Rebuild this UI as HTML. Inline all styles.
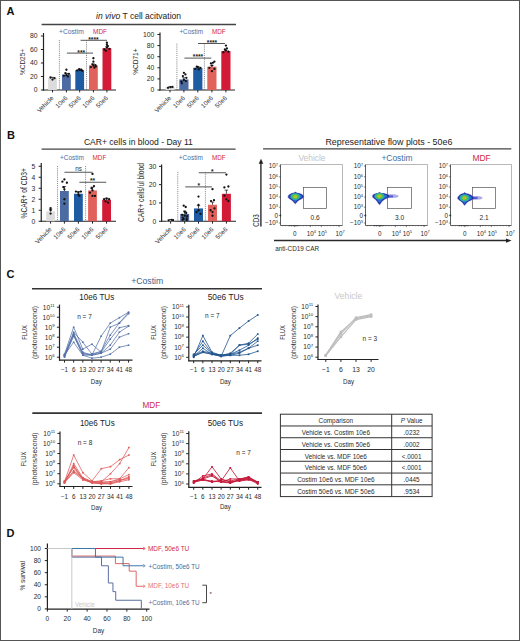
<!DOCTYPE html>
<html><head><meta charset="utf-8"><title>Figure</title>
<style>
html,body{margin:0;padding:0;background:#fff;}
body{width:520px;height:641px;overflow:hidden;}
svg{display:block;font-family:"Liberation Sans", sans-serif;}
</style></head>
<body>
<svg width="520" height="641" viewBox="0 0 520 641">
<defs><filter id="bl" x="-20%" y="-20%" width="140%" height="140%"><feGaussianBlur stdDeviation="0.45"/></filter></defs>
<rect x="0.50" y="0.50" width="519.00" height="640.00" fill="none" stroke="#555" stroke-width="1"/>
<text x="6.60" y="14.80" font-size="11" fill="#111" font-weight="bold">A</text>
<text x="7.00" y="138.80" font-size="11" fill="#111" font-weight="bold">B</text>
<text x="6.60" y="277.80" font-size="11" fill="#111" font-weight="bold">C</text>
<text x="6.60" y="536.90" font-size="11" fill="#111" font-weight="bold">D</text>
<line x1="41.60" y1="24.50" x2="236.00" y2="24.50" stroke="#444" stroke-width="1.3"/>
<text x="138.60" y="19.30" font-size="8.7" fill="#222" text-anchor="middle" textLength="85.00" lengthAdjust="spacingAndGlyphs"><tspan font-style="italic">in vivo</tspan> T cell acitvation</text>
<line x1="41.60" y1="149.10" x2="235.60" y2="149.10" stroke="#444" stroke-width="1.3"/>
<text x="138.40" y="145.10" font-size="8.6" fill="#222" text-anchor="middle" textLength="109.00" lengthAdjust="spacingAndGlyphs">CAR+ cells in blood - Day 11</text>
<line x1="263.10" y1="148.80" x2="511.30" y2="148.80" stroke="#444" stroke-width="1.3"/>
<text x="388.90" y="145.00" font-size="8.6" fill="#222" text-anchor="middle" textLength="127.00" lengthAdjust="spacingAndGlyphs">Representative flow plots - 50e6</text>
<line x1="32.00" y1="288.70" x2="262.00" y2="288.70" stroke="#333" stroke-width="1.6"/>
<text x="147.20" y="284.40" font-size="9.4" fill="#3b5d8c" text-anchor="middle" textLength="32.00" lengthAdjust="spacingAndGlyphs">+Costim</text>
<line x1="32.30" y1="413.10" x2="262.00" y2="413.10" stroke="#333" stroke-width="1.6"/>
<text x="151.30" y="408.00" font-size="9.4" fill="#cc2a4a" text-anchor="middle" textLength="17.80" lengthAdjust="spacingAndGlyphs">MDF</text>
<line x1="43.50" y1="33.00" x2="43.50" y2="90.60" stroke="#222" stroke-width="1.2"/>
<line x1="42.90" y1="90.00" x2="116.00" y2="90.00" stroke="#222" stroke-width="1.2"/>
<line x1="40.90" y1="90.00" x2="43.50" y2="90.00" stroke="#222" stroke-width="1.0"/>
<text x="37.60" y="92.40" font-size="6.8" fill="#2a2a2a" text-anchor="end">0</text>
<line x1="40.90" y1="76.50" x2="43.50" y2="76.50" stroke="#222" stroke-width="1.0"/>
<text x="37.60" y="78.90" font-size="6.8" fill="#2a2a2a" text-anchor="end">20</text>
<line x1="40.90" y1="63.00" x2="43.50" y2="63.00" stroke="#222" stroke-width="1.0"/>
<text x="37.60" y="65.40" font-size="6.8" fill="#2a2a2a" text-anchor="end">40</text>
<line x1="40.90" y1="49.50" x2="43.50" y2="49.50" stroke="#222" stroke-width="1.0"/>
<text x="37.60" y="51.90" font-size="6.8" fill="#2a2a2a" text-anchor="end">60</text>
<line x1="40.90" y1="36.00" x2="43.50" y2="36.00" stroke="#222" stroke-width="1.0"/>
<text x="37.60" y="38.40" font-size="6.8" fill="#2a2a2a" text-anchor="end">80</text>
<line x1="59.40" y1="40.00" x2="59.40" y2="90.00" stroke="#444" stroke-width="0.75" stroke-dasharray="0.8,1.1"/>
<line x1="86.50" y1="40.00" x2="86.50" y2="90.00" stroke="#444" stroke-width="0.75" stroke-dasharray="0.8,1.1"/>
<rect x="48.10" y="78.19" width="8.80" height="11.81" fill="#dcdcdc"/>
<line x1="52.50" y1="78.19" x2="52.50" y2="77.38" stroke="#222" stroke-width="0.8"/>
<line x1="50.80" y1="77.38" x2="54.20" y2="77.38" stroke="#222" stroke-width="0.8"/>
<circle cx="50.50" cy="77.51" r="1.15" fill="#111"/>
<circle cx="54.50" cy="78.19" r="1.15" fill="#111"/>
<circle cx="52.50" cy="79.54" r="1.15" fill="#111"/>
<line x1="52.50" y1="90.00" x2="52.50" y2="92.40" stroke="#222" stroke-width="1.0"/>
<rect x="62.00" y="74.47" width="8.80" height="15.53" fill="#4d6ba3"/>
<line x1="66.40" y1="74.47" x2="66.40" y2="73.46" stroke="#222" stroke-width="0.8"/>
<line x1="64.70" y1="73.46" x2="68.10" y2="73.46" stroke="#222" stroke-width="0.8"/>
<circle cx="63.90" cy="75.83" r="1.15" fill="#111"/>
<circle cx="66.40" cy="75.15" r="1.15" fill="#111"/>
<circle cx="68.90" cy="73.80" r="1.15" fill="#111"/>
<circle cx="65.40" cy="73.12" r="1.15" fill="#111"/>
<circle cx="67.90" cy="76.50" r="1.15" fill="#111"/>
<circle cx="66.40" cy="69.75" r="1.15" fill="#111"/>
<line x1="66.40" y1="90.00" x2="66.40" y2="92.40" stroke="#222" stroke-width="1.0"/>
<rect x="75.30" y="70.09" width="8.80" height="19.91" fill="#1d5ba3"/>
<line x1="79.70" y1="70.09" x2="79.70" y2="69.41" stroke="#222" stroke-width="0.8"/>
<line x1="78.00" y1="69.41" x2="81.40" y2="69.41" stroke="#222" stroke-width="0.8"/>
<circle cx="77.20" cy="70.42" r="1.15" fill="#111"/>
<circle cx="79.20" cy="69.08" r="1.15" fill="#111"/>
<circle cx="81.20" cy="69.75" r="1.15" fill="#111"/>
<circle cx="82.20" cy="70.76" r="1.15" fill="#111"/>
<circle cx="79.70" cy="70.09" r="1.15" fill="#111"/>
<line x1="79.70" y1="90.00" x2="79.70" y2="92.40" stroke="#222" stroke-width="1.0"/>
<rect x="89.00" y="65.36" width="8.80" height="24.64" fill="#e1625b"/>
<line x1="93.40" y1="65.36" x2="93.40" y2="64.01" stroke="#222" stroke-width="0.8"/>
<line x1="91.70" y1="64.01" x2="95.10" y2="64.01" stroke="#222" stroke-width="0.8"/>
<circle cx="90.90" cy="67.05" r="1.15" fill="#111"/>
<circle cx="93.40" cy="65.70" r="1.15" fill="#111"/>
<circle cx="95.90" cy="66.38" r="1.15" fill="#111"/>
<circle cx="92.40" cy="64.35" r="1.15" fill="#111"/>
<circle cx="94.40" cy="67.72" r="1.15" fill="#111"/>
<circle cx="93.40" cy="61.65" r="1.15" fill="#111"/>
<circle cx="93.40" cy="58.27" r="1.15" fill="#111"/>
<circle cx="95.40" cy="65.03" r="1.15" fill="#111"/>
<line x1="93.40" y1="90.00" x2="93.40" y2="92.40" stroke="#222" stroke-width="1.0"/>
<rect x="102.50" y="48.15" width="8.80" height="41.85" fill="#d31a37"/>
<line x1="106.90" y1="48.15" x2="106.90" y2="46.80" stroke="#222" stroke-width="0.8"/>
<line x1="105.20" y1="46.80" x2="108.60" y2="46.80" stroke="#222" stroke-width="0.8"/>
<circle cx="104.40" cy="49.50" r="1.15" fill="#111"/>
<circle cx="106.90" cy="47.47" r="1.15" fill="#111"/>
<circle cx="109.40" cy="48.82" r="1.15" fill="#111"/>
<circle cx="105.90" cy="50.85" r="1.15" fill="#111"/>
<circle cx="107.90" cy="46.12" r="1.15" fill="#111"/>
<circle cx="106.90" cy="42.75" r="1.15" fill="#111"/>
<circle cx="106.90" cy="44.77" r="1.15" fill="#111"/>
<line x1="106.90" y1="90.00" x2="106.90" y2="92.40" stroke="#222" stroke-width="1.0"/>
<line x1="66.90" y1="53.10" x2="93.00" y2="53.10" stroke="#555" stroke-width="1.0"/>
<text x="81.20" y="54.69" font-size="6.6" fill="#222" text-anchor="middle" font-weight="bold">***</text>
<line x1="80.60" y1="40.30" x2="107.00" y2="40.30" stroke="#555" stroke-width="1.0"/>
<text x="93.40" y="41.99" font-size="6.6" fill="#222" text-anchor="middle" font-weight="bold">****</text>
<text x="59.00" y="34.40" font-size="6.9" fill="#3f6fa6" textLength="24.80" lengthAdjust="spacingAndGlyphs">+Costim</text>
<text x="93.00" y="34.40" font-size="6.9" fill="#cc2a4a" textLength="14.00" lengthAdjust="spacingAndGlyphs">MDF</text>
<text x="54.00" y="98.60" font-size="6.3" fill="#2a2a2a" text-anchor="end" transform="rotate(-45 54.00 98.60)">Vehicle</text>
<text x="67.90" y="98.60" font-size="6.3" fill="#2a2a2a" text-anchor="end" transform="rotate(-45 67.90 98.60)">10e6</text>
<text x="81.20" y="98.60" font-size="6.3" fill="#2a2a2a" text-anchor="end" transform="rotate(-45 81.20 98.60)">50e6</text>
<text x="94.90" y="98.60" font-size="6.3" fill="#2a2a2a" text-anchor="end" transform="rotate(-45 94.90 98.60)">10e6</text>
<text x="108.40" y="98.60" font-size="6.3" fill="#2a2a2a" text-anchor="end" transform="rotate(-45 108.40 98.60)">50e6</text>
<text x="25.38" y="62.00" font-size="8.0" fill="#2a2a2a" text-anchor="middle" textLength="26.00" lengthAdjust="spacingAndGlyphs" transform="rotate(-90 25.38 62.00)">%CD25+</text>
<line x1="160.00" y1="32.50" x2="160.00" y2="90.60" stroke="#222" stroke-width="1.2"/>
<line x1="159.40" y1="90.00" x2="235.00" y2="90.00" stroke="#222" stroke-width="1.2"/>
<line x1="157.40" y1="90.00" x2="160.00" y2="90.00" stroke="#222" stroke-width="1.0"/>
<text x="154.40" y="92.40" font-size="6.8" fill="#2a2a2a" text-anchor="end">0</text>
<line x1="157.40" y1="78.90" x2="160.00" y2="78.90" stroke="#222" stroke-width="1.0"/>
<text x="154.40" y="81.30" font-size="6.8" fill="#2a2a2a" text-anchor="end">20</text>
<line x1="157.40" y1="67.80" x2="160.00" y2="67.80" stroke="#222" stroke-width="1.0"/>
<text x="154.40" y="70.20" font-size="6.8" fill="#2a2a2a" text-anchor="end">40</text>
<line x1="157.40" y1="56.70" x2="160.00" y2="56.70" stroke="#222" stroke-width="1.0"/>
<text x="154.40" y="59.10" font-size="6.8" fill="#2a2a2a" text-anchor="end">60</text>
<line x1="157.40" y1="45.60" x2="160.00" y2="45.60" stroke="#222" stroke-width="1.0"/>
<text x="154.40" y="48.00" font-size="6.8" fill="#2a2a2a" text-anchor="end">80</text>
<line x1="157.40" y1="34.50" x2="160.00" y2="34.50" stroke="#222" stroke-width="1.0"/>
<text x="154.40" y="36.90" font-size="6.8" fill="#2a2a2a" text-anchor="end">100</text>
<line x1="176.90" y1="43.70" x2="176.90" y2="90.00" stroke="#444" stroke-width="0.75" stroke-dasharray="0.8,1.1"/>
<line x1="204.40" y1="43.70" x2="204.40" y2="90.00" stroke="#444" stroke-width="0.75" stroke-dasharray="0.8,1.1"/>
<rect x="165.40" y="87.22" width="9.20" height="2.78" fill="#dcdcdc"/>
<line x1="170.00" y1="87.22" x2="170.00" y2="86.78" stroke="#222" stroke-width="0.8"/>
<line x1="168.30" y1="86.78" x2="171.70" y2="86.78" stroke="#222" stroke-width="0.8"/>
<circle cx="168.00" cy="87.78" r="1.15" fill="#111"/>
<circle cx="170.50" cy="87.22" r="1.15" fill="#111"/>
<circle cx="172.50" cy="86.95" r="1.15" fill="#111"/>
<line x1="170.00" y1="90.00" x2="170.00" y2="92.40" stroke="#222" stroke-width="1.0"/>
<rect x="179.30" y="79.45" width="9.20" height="10.55" fill="#4d6ba3"/>
<line x1="183.90" y1="79.45" x2="183.90" y2="77.79" stroke="#222" stroke-width="0.8"/>
<line x1="182.20" y1="77.79" x2="185.60" y2="77.79" stroke="#222" stroke-width="0.8"/>
<circle cx="181.40" cy="81.67" r="1.15" fill="#111"/>
<circle cx="183.90" cy="80.01" r="1.15" fill="#111"/>
<circle cx="186.40" cy="77.79" r="1.15" fill="#111"/>
<circle cx="182.90" cy="76.12" r="1.15" fill="#111"/>
<circle cx="185.40" cy="74.46" r="1.15" fill="#111"/>
<circle cx="183.90" cy="72.80" r="1.15" fill="#111"/>
<circle cx="181.90" cy="83.34" r="1.15" fill="#111"/>
<circle cx="185.90" cy="81.12" r="1.15" fill="#111"/>
<line x1="183.90" y1="90.00" x2="183.90" y2="92.40" stroke="#222" stroke-width="1.0"/>
<rect x="193.20" y="67.80" width="9.20" height="22.20" fill="#1d5ba3"/>
<line x1="197.80" y1="67.80" x2="197.80" y2="66.69" stroke="#222" stroke-width="0.8"/>
<line x1="196.10" y1="66.69" x2="199.50" y2="66.69" stroke="#222" stroke-width="0.8"/>
<circle cx="195.30" cy="68.91" r="1.15" fill="#111"/>
<circle cx="197.80" cy="67.25" r="1.15" fill="#111"/>
<circle cx="200.30" cy="67.80" r="1.15" fill="#111"/>
<circle cx="196.80" cy="66.69" r="1.15" fill="#111"/>
<circle cx="198.80" cy="69.47" r="1.15" fill="#111"/>
<line x1="197.80" y1="90.00" x2="197.80" y2="92.40" stroke="#222" stroke-width="1.0"/>
<rect x="207.30" y="66.69" width="9.20" height="23.31" fill="#e1625b"/>
<line x1="211.90" y1="66.69" x2="211.90" y2="65.30" stroke="#222" stroke-width="0.8"/>
<line x1="210.20" y1="65.30" x2="213.60" y2="65.30" stroke="#222" stroke-width="0.8"/>
<circle cx="209.40" cy="67.80" r="1.15" fill="#111"/>
<circle cx="211.90" cy="65.58" r="1.15" fill="#111"/>
<circle cx="214.40" cy="68.91" r="1.15" fill="#111"/>
<circle cx="210.90" cy="63.36" r="1.15" fill="#111"/>
<circle cx="212.90" cy="62.80" r="1.15" fill="#111"/>
<circle cx="214.40" cy="61.69" r="1.15" fill="#111"/>
<circle cx="211.90" cy="71.13" r="1.15" fill="#111"/>
<line x1="211.90" y1="90.00" x2="211.90" y2="92.40" stroke="#222" stroke-width="1.0"/>
<rect x="221.30" y="51.15" width="9.20" height="38.85" fill="#d31a37"/>
<line x1="225.90" y1="51.15" x2="225.90" y2="50.04" stroke="#222" stroke-width="0.8"/>
<line x1="224.20" y1="50.04" x2="227.60" y2="50.04" stroke="#222" stroke-width="0.8"/>
<circle cx="223.40" cy="52.26" r="1.15" fill="#111"/>
<circle cx="225.90" cy="50.59" r="1.15" fill="#111"/>
<circle cx="228.40" cy="51.70" r="1.15" fill="#111"/>
<circle cx="224.90" cy="49.48" r="1.15" fill="#111"/>
<circle cx="226.90" cy="48.37" r="1.15" fill="#111"/>
<circle cx="225.90" cy="45.60" r="1.15" fill="#111"/>
<line x1="225.90" y1="90.00" x2="225.90" y2="92.40" stroke="#222" stroke-width="1.0"/>
<line x1="184.40" y1="58.10" x2="211.30" y2="58.10" stroke="#555" stroke-width="1.0"/>
<text x="198.00" y="59.39" font-size="6.6" fill="#222" text-anchor="middle" font-weight="bold">****</text>
<line x1="198.00" y1="43.50" x2="225.00" y2="43.50" stroke="#555" stroke-width="1.0"/>
<text x="212.00" y="45.09" font-size="6.6" fill="#222" text-anchor="middle" font-weight="bold">****</text>
<text x="179.40" y="34.40" font-size="6.9" fill="#3f6fa6" textLength="23.60" lengthAdjust="spacingAndGlyphs">+Costim</text>
<text x="211.90" y="34.40" font-size="6.9" fill="#cc2a4a" textLength="13.70" lengthAdjust="spacingAndGlyphs">MDF</text>
<text x="171.50" y="98.60" font-size="6.3" fill="#2a2a2a" text-anchor="end" transform="rotate(-45 171.50 98.60)">Vehicle</text>
<text x="185.40" y="98.60" font-size="6.3" fill="#2a2a2a" text-anchor="end" transform="rotate(-45 185.40 98.60)">10e6</text>
<text x="199.30" y="98.60" font-size="6.3" fill="#2a2a2a" text-anchor="end" transform="rotate(-45 199.30 98.60)">50e6</text>
<text x="213.40" y="98.60" font-size="6.3" fill="#2a2a2a" text-anchor="end" transform="rotate(-45 213.40 98.60)">10e6</text>
<text x="227.40" y="98.60" font-size="6.3" fill="#2a2a2a" text-anchor="end" transform="rotate(-45 227.40 98.60)">50e6</text>
<text x="138.38" y="61.60" font-size="8.0" fill="#2a2a2a" text-anchor="middle" textLength="26.40" lengthAdjust="spacingAndGlyphs" transform="rotate(-90 138.38 61.60)">%CD71+</text>
<line x1="41.25" y1="163.10" x2="41.25" y2="221.85" stroke="#222" stroke-width="1.2"/>
<line x1="40.65" y1="221.25" x2="116.00" y2="221.25" stroke="#222" stroke-width="1.2"/>
<line x1="38.65" y1="221.25" x2="41.25" y2="221.25" stroke="#222" stroke-width="1.0"/>
<text x="35.20" y="223.65" font-size="6.8" fill="#2a2a2a" text-anchor="end">0</text>
<line x1="38.65" y1="210.25" x2="41.25" y2="210.25" stroke="#222" stroke-width="1.0"/>
<text x="35.20" y="212.65" font-size="6.8" fill="#2a2a2a" text-anchor="end">1</text>
<line x1="38.65" y1="199.25" x2="41.25" y2="199.25" stroke="#222" stroke-width="1.0"/>
<text x="35.20" y="201.65" font-size="6.8" fill="#2a2a2a" text-anchor="end">2</text>
<line x1="38.65" y1="188.25" x2="41.25" y2="188.25" stroke="#222" stroke-width="1.0"/>
<text x="35.20" y="190.65" font-size="6.8" fill="#2a2a2a" text-anchor="end">3</text>
<line x1="38.65" y1="177.25" x2="41.25" y2="177.25" stroke="#222" stroke-width="1.0"/>
<text x="35.20" y="179.65" font-size="6.8" fill="#2a2a2a" text-anchor="end">4</text>
<line x1="38.65" y1="166.25" x2="41.25" y2="166.25" stroke="#222" stroke-width="1.0"/>
<text x="35.20" y="168.65" font-size="6.8" fill="#2a2a2a" text-anchor="end">5</text>
<line x1="57.50" y1="166.00" x2="57.50" y2="221.25" stroke="#444" stroke-width="0.75" stroke-dasharray="0.8,1.1"/>
<line x1="85.60" y1="166.00" x2="85.60" y2="221.25" stroke="#444" stroke-width="0.75" stroke-dasharray="0.8,1.1"/>
<rect x="46.20" y="211.35" width="8.80" height="9.90" fill="#dcdcdc"/>
<line x1="50.60" y1="211.35" x2="50.60" y2="209.15" stroke="#222" stroke-width="0.8"/>
<line x1="48.90" y1="209.15" x2="52.30" y2="209.15" stroke="#222" stroke-width="0.8"/>
<circle cx="50.60" cy="208.05" r="1.15" fill="#111"/>
<circle cx="50.60" cy="213.55" r="1.15" fill="#111"/>
<circle cx="50.60" cy="210.25" r="1.15" fill="#111"/>
<line x1="50.60" y1="221.25" x2="50.60" y2="223.65" stroke="#222" stroke-width="1.0"/>
<rect x="60.00" y="191.00" width="8.80" height="30.25" fill="#4d6ba3"/>
<line x1="64.40" y1="191.00" x2="64.40" y2="186.60" stroke="#222" stroke-width="0.8"/>
<line x1="62.70" y1="186.60" x2="66.10" y2="186.60" stroke="#222" stroke-width="0.8"/>
<circle cx="62.40" cy="181.65" r="1.15" fill="#111"/>
<circle cx="64.40" cy="179.45" r="1.15" fill="#111"/>
<circle cx="66.90" cy="182.75" r="1.15" fill="#111"/>
<circle cx="64.40" cy="189.35" r="1.15" fill="#111"/>
<circle cx="64.40" cy="199.25" r="1.15" fill="#111"/>
<circle cx="64.40" cy="203.65" r="1.15" fill="#111"/>
<circle cx="63.40" cy="187.15" r="1.15" fill="#111"/>
<line x1="64.40" y1="221.25" x2="64.40" y2="223.65" stroke="#222" stroke-width="1.0"/>
<rect x="74.00" y="193.75" width="8.80" height="27.50" fill="#1d5ba3"/>
<line x1="78.40" y1="193.75" x2="78.40" y2="191.55" stroke="#222" stroke-width="0.8"/>
<line x1="76.70" y1="191.55" x2="80.10" y2="191.55" stroke="#222" stroke-width="0.8"/>
<circle cx="75.90" cy="191.55" r="1.15" fill="#111"/>
<circle cx="78.40" cy="192.65" r="1.15" fill="#111"/>
<circle cx="80.90" cy="191.55" r="1.15" fill="#111"/>
<circle cx="78.40" cy="194.85" r="1.15" fill="#111"/>
<circle cx="79.40" cy="195.95" r="1.15" fill="#111"/>
<line x1="78.40" y1="221.25" x2="78.40" y2="223.65" stroke="#222" stroke-width="1.0"/>
<rect x="88.10" y="190.45" width="8.80" height="30.80" fill="#e1625b"/>
<line x1="92.50" y1="190.45" x2="92.50" y2="187.15" stroke="#222" stroke-width="0.8"/>
<line x1="90.80" y1="187.15" x2="94.20" y2="187.15" stroke="#222" stroke-width="0.8"/>
<circle cx="92.50" cy="173.95" r="1.15" fill="#111"/>
<circle cx="90.00" cy="192.65" r="1.15" fill="#111"/>
<circle cx="92.50" cy="195.95" r="1.15" fill="#111"/>
<circle cx="95.00" cy="195.95" r="1.15" fill="#111"/>
<circle cx="91.50" cy="188.25" r="1.15" fill="#111"/>
<circle cx="94.00" cy="186.05" r="1.15" fill="#111"/>
<circle cx="92.50" cy="190.45" r="1.15" fill="#111"/>
<line x1="92.50" y1="221.25" x2="92.50" y2="223.65" stroke="#222" stroke-width="1.0"/>
<rect x="102.20" y="199.80" width="8.80" height="21.45" fill="#d31a37"/>
<line x1="106.60" y1="199.80" x2="106.60" y2="198.15" stroke="#222" stroke-width="0.8"/>
<line x1="104.90" y1="198.15" x2="108.30" y2="198.15" stroke="#222" stroke-width="0.8"/>
<circle cx="104.10" cy="199.25" r="1.15" fill="#111"/>
<circle cx="106.60" cy="198.70" r="1.15" fill="#111"/>
<circle cx="109.10" cy="199.25" r="1.15" fill="#111"/>
<circle cx="105.60" cy="201.45" r="1.15" fill="#111"/>
<circle cx="108.10" cy="202.55" r="1.15" fill="#111"/>
<line x1="106.60" y1="221.25" x2="106.60" y2="223.65" stroke="#222" stroke-width="1.0"/>
<line x1="64.40" y1="172.25" x2="92.50" y2="172.25" stroke="#555" stroke-width="1.0"/>
<text x="78.50" y="170.60" font-size="6.4" fill="#333" text-anchor="middle">ns</text>
<line x1="79.40" y1="182.25" x2="106.25" y2="182.25" stroke="#555" stroke-width="1.0"/>
<text x="92.50" y="183.49" font-size="6.6" fill="#222" text-anchor="middle" font-weight="bold">**</text>
<text x="60.00" y="159.80" font-size="6.9" fill="#3f6fa6" textLength="23.80" lengthAdjust="spacingAndGlyphs">+Costim</text>
<text x="92.50" y="159.80" font-size="6.9" fill="#cc2a4a" textLength="13.80" lengthAdjust="spacingAndGlyphs">MDF</text>
<text x="52.10" y="229.85" font-size="6.3" fill="#2a2a2a" text-anchor="end" transform="rotate(-45 52.10 229.85)">Vehicle</text>
<text x="65.90" y="229.85" font-size="6.3" fill="#2a2a2a" text-anchor="end" transform="rotate(-45 65.90 229.85)">10e6</text>
<text x="79.90" y="229.85" font-size="6.3" fill="#2a2a2a" text-anchor="end" transform="rotate(-45 79.90 229.85)">50e6</text>
<text x="94.00" y="229.85" font-size="6.3" fill="#2a2a2a" text-anchor="end" transform="rotate(-45 94.00 229.85)">10e6</text>
<text x="108.10" y="229.85" font-size="6.3" fill="#2a2a2a" text-anchor="end" transform="rotate(-45 108.10 229.85)">50e6</text>
<text x="26.95" y="193.30" font-size="8.2" fill="#2a2a2a" text-anchor="middle" textLength="50.40" lengthAdjust="spacingAndGlyphs" transform="rotate(-90 26.95 193.30)">%CAR+ of CD3+</text>
<line x1="161.60" y1="164.40" x2="161.60" y2="221.85" stroke="#222" stroke-width="1.2"/>
<line x1="161.00" y1="221.25" x2="236.00" y2="221.25" stroke="#222" stroke-width="1.2"/>
<line x1="159.00" y1="221.25" x2="161.60" y2="221.25" stroke="#222" stroke-width="1.0"/>
<text x="156.30" y="223.65" font-size="6.8" fill="#2a2a2a" text-anchor="end">0</text>
<line x1="159.00" y1="202.95" x2="161.60" y2="202.95" stroke="#222" stroke-width="1.0"/>
<text x="156.30" y="205.35" font-size="6.8" fill="#2a2a2a" text-anchor="end">10</text>
<line x1="159.00" y1="184.65" x2="161.60" y2="184.65" stroke="#222" stroke-width="1.0"/>
<text x="156.30" y="187.05" font-size="6.8" fill="#2a2a2a" text-anchor="end">20</text>
<line x1="159.00" y1="166.35" x2="161.60" y2="166.35" stroke="#222" stroke-width="1.0"/>
<text x="156.30" y="168.75" font-size="6.8" fill="#2a2a2a" text-anchor="end">30</text>
<line x1="177.75" y1="172.00" x2="177.75" y2="221.25" stroke="#444" stroke-width="0.75" stroke-dasharray="0.8,1.1"/>
<line x1="205.40" y1="172.00" x2="205.40" y2="221.25" stroke="#444" stroke-width="0.75" stroke-dasharray="0.8,1.1"/>
<rect x="166.10" y="219.97" width="9.00" height="1.28" fill="#dcdcdc"/>
<line x1="170.60" y1="219.97" x2="170.60" y2="219.60" stroke="#222" stroke-width="0.8"/>
<line x1="168.90" y1="219.60" x2="172.30" y2="219.60" stroke="#222" stroke-width="0.8"/>
<circle cx="168.60" cy="220.34" r="1.15" fill="#111"/>
<circle cx="171.60" cy="219.79" r="1.15" fill="#111"/>
<circle cx="173.10" cy="220.15" r="1.15" fill="#111"/>
<line x1="170.60" y1="221.25" x2="170.60" y2="223.65" stroke="#222" stroke-width="1.0"/>
<rect x="180.20" y="213.93" width="9.00" height="7.32" fill="#4d6ba3"/>
<line x1="184.70" y1="213.93" x2="184.70" y2="211.19" stroke="#222" stroke-width="0.8"/>
<line x1="183.00" y1="211.19" x2="186.40" y2="211.19" stroke="#222" stroke-width="0.8"/>
<circle cx="183.70" cy="205.69" r="1.15" fill="#111"/>
<circle cx="185.70" cy="206.98" r="1.15" fill="#111"/>
<circle cx="184.70" cy="215.76" r="1.15" fill="#111"/>
<circle cx="182.70" cy="217.59" r="1.15" fill="#111"/>
<circle cx="186.70" cy="218.50" r="1.15" fill="#111"/>
<circle cx="182.20" cy="214.84" r="1.15" fill="#111"/>
<circle cx="187.20" cy="216.13" r="1.15" fill="#111"/>
<circle cx="183.70" cy="219.05" r="1.15" fill="#111"/>
<circle cx="186.20" cy="213.01" r="1.15" fill="#111"/>
<circle cx="184.70" cy="211.73" r="1.15" fill="#111"/>
<circle cx="182.70" cy="219.79" r="1.15" fill="#111"/>
<circle cx="186.70" cy="220.15" r="1.15" fill="#111"/>
<line x1="184.70" y1="221.25" x2="184.70" y2="223.65" stroke="#222" stroke-width="1.0"/>
<rect x="194.00" y="208.44" width="9.00" height="12.81" fill="#1d5ba3"/>
<line x1="198.50" y1="208.44" x2="198.50" y2="205.69" stroke="#222" stroke-width="0.8"/>
<line x1="196.80" y1="205.69" x2="200.20" y2="205.69" stroke="#222" stroke-width="0.8"/>
<circle cx="198.50" cy="196.54" r="1.15" fill="#111"/>
<circle cx="198.50" cy="204.78" r="1.15" fill="#111"/>
<circle cx="196.50" cy="212.10" r="1.15" fill="#111"/>
<circle cx="200.50" cy="213.93" r="1.15" fill="#111"/>
<circle cx="198.50" cy="210.27" r="1.15" fill="#111"/>
<line x1="198.50" y1="221.25" x2="198.50" y2="223.65" stroke="#222" stroke-width="1.0"/>
<rect x="208.00" y="204.78" width="9.00" height="16.47" fill="#e1625b"/>
<line x1="212.50" y1="204.78" x2="212.50" y2="202.03" stroke="#222" stroke-width="0.8"/>
<line x1="210.80" y1="202.03" x2="214.20" y2="202.03" stroke="#222" stroke-width="0.8"/>
<circle cx="212.50" cy="189.22" r="1.15" fill="#111"/>
<circle cx="211.00" cy="201.12" r="1.15" fill="#111"/>
<circle cx="214.00" cy="200.20" r="1.15" fill="#111"/>
<circle cx="210.50" cy="210.27" r="1.15" fill="#111"/>
<circle cx="212.50" cy="212.10" r="1.15" fill="#111"/>
<circle cx="214.50" cy="208.44" r="1.15" fill="#111"/>
<circle cx="212.50" cy="215.76" r="1.15" fill="#111"/>
<line x1="212.50" y1="221.25" x2="212.50" y2="223.65" stroke="#222" stroke-width="1.0"/>
<rect x="221.90" y="193.80" width="9.00" height="27.45" fill="#d31a37"/>
<line x1="226.40" y1="193.80" x2="226.40" y2="190.14" stroke="#222" stroke-width="0.8"/>
<line x1="224.70" y1="190.14" x2="228.10" y2="190.14" stroke="#222" stroke-width="0.8"/>
<circle cx="226.40" cy="174.59" r="1.15" fill="#111"/>
<circle cx="224.40" cy="187.39" r="1.15" fill="#111"/>
<circle cx="228.40" cy="186.48" r="1.15" fill="#111"/>
<circle cx="226.40" cy="199.29" r="1.15" fill="#111"/>
<circle cx="224.40" cy="195.63" r="1.15" fill="#111"/>
<circle cx="228.40" cy="201.12" r="1.15" fill="#111"/>
<line x1="226.40" y1="221.25" x2="226.40" y2="223.65" stroke="#222" stroke-width="1.0"/>
<line x1="185.25" y1="186.90" x2="211.90" y2="186.90" stroke="#555" stroke-width="1.0"/>
<text x="198.75" y="187.99" font-size="6.6" fill="#222" text-anchor="middle" font-weight="bold">*</text>
<line x1="198.75" y1="172.75" x2="226.00" y2="172.75" stroke="#555" stroke-width="1.0"/>
<text x="212.25" y="173.89" font-size="6.6" fill="#222" text-anchor="middle" font-weight="bold">*</text>
<text x="178.80" y="159.80" font-size="6.9" fill="#3f6fa6" textLength="24.00" lengthAdjust="spacingAndGlyphs">+Costim</text>
<text x="211.90" y="159.80" font-size="6.9" fill="#cc2a4a" textLength="13.70" lengthAdjust="spacingAndGlyphs">MDF</text>
<text x="172.10" y="229.85" font-size="6.3" fill="#2a2a2a" text-anchor="end" transform="rotate(-45 172.10 229.85)">Vehicle</text>
<text x="186.20" y="229.85" font-size="6.3" fill="#2a2a2a" text-anchor="end" transform="rotate(-45 186.20 229.85)">10e6</text>
<text x="200.00" y="229.85" font-size="6.3" fill="#2a2a2a" text-anchor="end" transform="rotate(-45 200.00 229.85)">50e6</text>
<text x="214.00" y="229.85" font-size="6.3" fill="#2a2a2a" text-anchor="end" transform="rotate(-45 214.00 229.85)">10e6</text>
<text x="227.90" y="229.85" font-size="6.3" fill="#2a2a2a" text-anchor="end" transform="rotate(-45 227.90 229.85)">50e6</text>
<text x="143.70" y="192.50" font-size="8.6" fill="#2a2a2a" text-anchor="middle" textLength="59.00" lengthAdjust="spacingAndGlyphs" transform="rotate(-90 143.70 192.50)">CAR+ cells/ul blood</text>
<line x1="280.50" y1="164.50" x2="342.50" y2="164.50" stroke="#9a9a9a" stroke-width="0.7"/>
<line x1="342.50" y1="164.50" x2="342.50" y2="225.50" stroke="#9a9a9a" stroke-width="0.7"/>
<line x1="280.50" y1="164.50" x2="280.50" y2="225.50" stroke="#333" stroke-width="0.8"/>
<line x1="280.50" y1="225.50" x2="342.50" y2="225.50" stroke="#333" stroke-width="0.8"/>
<line x1="278.90" y1="166.00" x2="280.50" y2="166.00" stroke="#333" stroke-width="0.6"/>
<text x="277.90" y="168.20" font-size="6.3" fill="#2a2a2a" text-anchor="end">10<tspan font-size="4.0" dy="-2.5">7</tspan></text>
<line x1="278.90" y1="176.80" x2="280.50" y2="176.80" stroke="#333" stroke-width="0.6"/>
<text x="277.90" y="179.00" font-size="6.3" fill="#2a2a2a" text-anchor="end">10<tspan font-size="4.0" dy="-2.5">6</tspan></text>
<line x1="278.90" y1="187.00" x2="280.50" y2="187.00" stroke="#333" stroke-width="0.6"/>
<text x="277.90" y="189.20" font-size="6.3" fill="#2a2a2a" text-anchor="end">10<tspan font-size="4.0" dy="-2.5">5</tspan></text>
<line x1="278.90" y1="197.00" x2="280.50" y2="197.00" stroke="#333" stroke-width="0.6"/>
<text x="277.90" y="199.20" font-size="6.3" fill="#2a2a2a" text-anchor="end">10<tspan font-size="4.0" dy="-2.5">4</tspan></text>
<line x1="278.90" y1="207.20" x2="280.50" y2="207.20" stroke="#333" stroke-width="0.6"/>
<text x="277.90" y="209.40" font-size="6.3" fill="#2a2a2a" text-anchor="end">10<tspan font-size="4.0" dy="-2.5">3</tspan></text>
<line x1="278.90" y1="215.40" x2="280.50" y2="215.40" stroke="#333" stroke-width="0.6"/>
<text x="277.90" y="217.60" font-size="6.3" fill="#2a2a2a" text-anchor="end">0</text>
<line x1="278.90" y1="223.00" x2="280.50" y2="223.00" stroke="#333" stroke-width="0.6"/>
<text x="277.90" y="225.20" font-size="6.3" fill="#2a2a2a" text-anchor="end">−10<tspan font-size="4.0" dy="-2.5">3</tspan></text>
<line x1="289.00" y1="225.70" x2="298.50" y2="225.70" stroke="#222" stroke-width="1.1" stroke-dasharray="1.2,0.6" opacity="0.75"/>
<rect x="279.80" y="214.60" width="1.40" height="1.80" fill="#222" opacity="0.8"/>
<line x1="294.80" y1="225.50" x2="294.80" y2="227.10" stroke="#333" stroke-width="0.6"/>
<text x="294.80" y="235.60" font-size="6.3" fill="#2a2a2a" text-anchor="middle">0</text>
<line x1="310.40" y1="225.50" x2="310.40" y2="227.10" stroke="#333" stroke-width="0.6"/>
<text x="311.40" y="235.60" font-size="6.3" fill="#2a2a2a" text-anchor="middle">10<tspan font-size="4.0" dy="-2.5">4</tspan></text>
<line x1="321.30" y1="225.50" x2="321.30" y2="227.10" stroke="#333" stroke-width="0.6"/>
<text x="322.30" y="235.60" font-size="6.3" fill="#2a2a2a" text-anchor="middle">10<tspan font-size="4.0" dy="-2.5">5</tspan></text>
<line x1="339.00" y1="225.50" x2="339.00" y2="227.10" stroke="#333" stroke-width="0.6"/>
<text x="340.00" y="235.60" font-size="6.3" fill="#2a2a2a" text-anchor="middle">10<tspan font-size="4.0" dy="-2.5">7</tspan></text>
<line x1="282.50" y1="225.50" x2="282.50" y2="226.40" stroke="#555" stroke-width="0.4"/>
<line x1="285.50" y1="225.50" x2="285.50" y2="226.40" stroke="#555" stroke-width="0.4"/>
<line x1="288.50" y1="225.50" x2="288.50" y2="226.40" stroke="#555" stroke-width="0.4"/>
<line x1="291.50" y1="225.50" x2="291.50" y2="226.40" stroke="#555" stroke-width="0.4"/>
<line x1="294.50" y1="225.50" x2="294.50" y2="226.40" stroke="#555" stroke-width="0.4"/>
<line x1="297.50" y1="225.50" x2="297.50" y2="226.40" stroke="#555" stroke-width="0.4"/>
<line x1="300.50" y1="225.50" x2="300.50" y2="226.40" stroke="#555" stroke-width="0.4"/>
<line x1="303.50" y1="225.50" x2="303.50" y2="226.40" stroke="#555" stroke-width="0.4"/>
<line x1="306.50" y1="225.50" x2="306.50" y2="226.40" stroke="#555" stroke-width="0.4"/>
<line x1="309.50" y1="225.50" x2="309.50" y2="226.40" stroke="#555" stroke-width="0.4"/>
<line x1="312.50" y1="225.50" x2="312.50" y2="226.40" stroke="#555" stroke-width="0.4"/>
<line x1="315.50" y1="225.50" x2="315.50" y2="226.40" stroke="#555" stroke-width="0.4"/>
<line x1="318.50" y1="225.50" x2="318.50" y2="226.40" stroke="#555" stroke-width="0.4"/>
<line x1="321.50" y1="225.50" x2="321.50" y2="226.40" stroke="#555" stroke-width="0.4"/>
<line x1="324.50" y1="225.50" x2="324.50" y2="226.40" stroke="#555" stroke-width="0.4"/>
<line x1="327.50" y1="225.50" x2="327.50" y2="226.40" stroke="#555" stroke-width="0.4"/>
<line x1="330.50" y1="225.50" x2="330.50" y2="226.40" stroke="#555" stroke-width="0.4"/>
<line x1="333.50" y1="225.50" x2="333.50" y2="226.40" stroke="#555" stroke-width="0.4"/>
<line x1="336.50" y1="225.50" x2="336.50" y2="226.40" stroke="#555" stroke-width="0.4"/>
<line x1="339.50" y1="225.50" x2="339.50" y2="226.40" stroke="#555" stroke-width="0.4"/>
<text x="312.00" y="160.70" font-size="8.4" fill="#c4c4c4" text-anchor="middle" textLength="27.00" lengthAdjust="spacingAndGlyphs">Vehicle</text>
<rect x="303.50" y="187.50" width="23.00" height="21.00" fill="none" stroke="#555" stroke-width="0.7"/>
<text x="315.20" y="220.10" font-size="6.6" fill="#2a2a2a" text-anchor="middle">0.6</text>
<g filter="url(#bl)">
<path d="M287.49,196.93 C287.49,194.51 291.45,192.75 293.98,192.42 L295.30,191.43 L296.73,192.42 C299.70,192.75 304.32,194.29 304.32,196.93 C304.32,198.69 298.82,199.57 296.84,202.76 L295.30,204.52 L293.76,202.76 C291.78,199.57 287.49,198.69 287.49,196.93 Z" fill="#6a50d0" opacity="0.5"/>
<path d="M288.20,196.90 C288.20,194.70 291.80,193.10 294.10,192.80 L295.30,191.90 L296.60,192.80 C299.30,193.10 303.50,194.50 303.50,196.90 C303.50,198.50 298.50,199.30 296.70,202.20 L295.30,203.80 L293.90,202.20 C292.10,199.30 288.20,198.50 288.20,196.90 Z" fill="#1f2f9c"/>
<path d="M289.48,196.85 C289.48,195.04 292.43,193.73 294.32,193.48 L295.30,192.75 L296.37,193.48 C298.58,193.73 302.02,194.88 302.02,196.85 C302.02,198.16 297.92,198.81 296.45,201.19 L295.30,202.50 L294.15,201.19 C292.68,198.81 289.48,198.16 289.48,196.85 Z" fill="#2a6fd0"/>
<ellipse cx="295.30" cy="196.60" rx="4.59" ry="3.4" fill="#27b0b8"/>
<ellipse cx="295.30" cy="196.60" rx="3.5" ry="2.7" fill="#4cbf55"/>
<ellipse cx="295.30" cy="196.60" rx="2.0" ry="1.6" fill="#afcf2e"/>
<ellipse cx="295.30" cy="196.60" rx="0.9" ry="0.8" fill="#e6a020"/>
</g>
<line x1="365.50" y1="164.50" x2="427.50" y2="164.50" stroke="#9a9a9a" stroke-width="0.7"/>
<line x1="427.50" y1="164.50" x2="427.50" y2="225.50" stroke="#9a9a9a" stroke-width="0.7"/>
<line x1="365.50" y1="164.50" x2="365.50" y2="225.50" stroke="#333" stroke-width="0.8"/>
<line x1="365.50" y1="225.50" x2="427.50" y2="225.50" stroke="#333" stroke-width="0.8"/>
<line x1="363.90" y1="166.00" x2="365.50" y2="166.00" stroke="#333" stroke-width="0.6"/>
<text x="362.90" y="168.20" font-size="6.3" fill="#2a2a2a" text-anchor="end">10<tspan font-size="4.0" dy="-2.5">7</tspan></text>
<line x1="363.90" y1="176.80" x2="365.50" y2="176.80" stroke="#333" stroke-width="0.6"/>
<text x="362.90" y="179.00" font-size="6.3" fill="#2a2a2a" text-anchor="end">10<tspan font-size="4.0" dy="-2.5">6</tspan></text>
<line x1="363.90" y1="187.00" x2="365.50" y2="187.00" stroke="#333" stroke-width="0.6"/>
<text x="362.90" y="189.20" font-size="6.3" fill="#2a2a2a" text-anchor="end">10<tspan font-size="4.0" dy="-2.5">5</tspan></text>
<line x1="363.90" y1="197.00" x2="365.50" y2="197.00" stroke="#333" stroke-width="0.6"/>
<text x="362.90" y="199.20" font-size="6.3" fill="#2a2a2a" text-anchor="end">10<tspan font-size="4.0" dy="-2.5">4</tspan></text>
<line x1="363.90" y1="207.20" x2="365.50" y2="207.20" stroke="#333" stroke-width="0.6"/>
<text x="362.90" y="209.40" font-size="6.3" fill="#2a2a2a" text-anchor="end">10<tspan font-size="4.0" dy="-2.5">3</tspan></text>
<line x1="363.90" y1="215.40" x2="365.50" y2="215.40" stroke="#333" stroke-width="0.6"/>
<text x="362.90" y="217.60" font-size="6.3" fill="#2a2a2a" text-anchor="end">0</text>
<line x1="363.90" y1="223.00" x2="365.50" y2="223.00" stroke="#333" stroke-width="0.6"/>
<text x="362.90" y="225.20" font-size="6.3" fill="#2a2a2a" text-anchor="end">−10<tspan font-size="4.0" dy="-2.5">3</tspan></text>
<line x1="374.00" y1="225.70" x2="383.50" y2="225.70" stroke="#222" stroke-width="1.1" stroke-dasharray="1.2,0.6" opacity="0.75"/>
<rect x="364.80" y="214.60" width="1.40" height="1.80" fill="#222" opacity="0.8"/>
<line x1="379.80" y1="225.50" x2="379.80" y2="227.10" stroke="#333" stroke-width="0.6"/>
<text x="379.80" y="235.60" font-size="6.3" fill="#2a2a2a" text-anchor="middle">0</text>
<line x1="395.40" y1="225.50" x2="395.40" y2="227.10" stroke="#333" stroke-width="0.6"/>
<text x="396.40" y="235.60" font-size="6.3" fill="#2a2a2a" text-anchor="middle">10<tspan font-size="4.0" dy="-2.5">4</tspan></text>
<line x1="406.30" y1="225.50" x2="406.30" y2="227.10" stroke="#333" stroke-width="0.6"/>
<text x="407.30" y="235.60" font-size="6.3" fill="#2a2a2a" text-anchor="middle">10<tspan font-size="4.0" dy="-2.5">5</tspan></text>
<line x1="424.00" y1="225.50" x2="424.00" y2="227.10" stroke="#333" stroke-width="0.6"/>
<text x="425.00" y="235.60" font-size="6.3" fill="#2a2a2a" text-anchor="middle">10<tspan font-size="4.0" dy="-2.5">7</tspan></text>
<line x1="367.50" y1="225.50" x2="367.50" y2="226.40" stroke="#555" stroke-width="0.4"/>
<line x1="370.50" y1="225.50" x2="370.50" y2="226.40" stroke="#555" stroke-width="0.4"/>
<line x1="373.50" y1="225.50" x2="373.50" y2="226.40" stroke="#555" stroke-width="0.4"/>
<line x1="376.50" y1="225.50" x2="376.50" y2="226.40" stroke="#555" stroke-width="0.4"/>
<line x1="379.50" y1="225.50" x2="379.50" y2="226.40" stroke="#555" stroke-width="0.4"/>
<line x1="382.50" y1="225.50" x2="382.50" y2="226.40" stroke="#555" stroke-width="0.4"/>
<line x1="385.50" y1="225.50" x2="385.50" y2="226.40" stroke="#555" stroke-width="0.4"/>
<line x1="388.50" y1="225.50" x2="388.50" y2="226.40" stroke="#555" stroke-width="0.4"/>
<line x1="391.50" y1="225.50" x2="391.50" y2="226.40" stroke="#555" stroke-width="0.4"/>
<line x1="394.50" y1="225.50" x2="394.50" y2="226.40" stroke="#555" stroke-width="0.4"/>
<line x1="397.50" y1="225.50" x2="397.50" y2="226.40" stroke="#555" stroke-width="0.4"/>
<line x1="400.50" y1="225.50" x2="400.50" y2="226.40" stroke="#555" stroke-width="0.4"/>
<line x1="403.50" y1="225.50" x2="403.50" y2="226.40" stroke="#555" stroke-width="0.4"/>
<line x1="406.50" y1="225.50" x2="406.50" y2="226.40" stroke="#555" stroke-width="0.4"/>
<line x1="409.50" y1="225.50" x2="409.50" y2="226.40" stroke="#555" stroke-width="0.4"/>
<line x1="412.50" y1="225.50" x2="412.50" y2="226.40" stroke="#555" stroke-width="0.4"/>
<line x1="415.50" y1="225.50" x2="415.50" y2="226.40" stroke="#555" stroke-width="0.4"/>
<line x1="418.50" y1="225.50" x2="418.50" y2="226.40" stroke="#555" stroke-width="0.4"/>
<line x1="421.50" y1="225.50" x2="421.50" y2="226.40" stroke="#555" stroke-width="0.4"/>
<line x1="424.50" y1="225.50" x2="424.50" y2="226.40" stroke="#555" stroke-width="0.4"/>
<text x="397.00" y="160.70" font-size="8.4" fill="#3f6fa6" text-anchor="middle" textLength="31.20" lengthAdjust="spacingAndGlyphs">+Costim</text>
<rect x="387.50" y="187.50" width="24.00" height="21.00" fill="none" stroke="#555" stroke-width="0.7"/>
<text x="399.70" y="220.10" font-size="6.6" fill="#2a2a2a" text-anchor="middle">3.0</text>
<g filter="url(#bl)">
<path d="M386.00,194.60 C392.50,194.00 398.50,194.60 398.50,196.20 C398.50,197.80 392.50,198.20 386.00,198.00 Z" fill="#8f8fe0" opacity="0.75"/>
<path d="M386.00,195.20 L393.00,195.40 L393.00,197.20 L386.00,197.40 Z" fill="#3a48c8" opacity="0.8"/>
<path d="M371.91,196.53 C371.91,194.11 375.65,193.12 378.18,192.79 L379.50,191.80 L380.93,192.79 C383.90,193.12 389.95,193.89 389.95,196.53 C389.95,198.29 383.02,199.17 381.04,203.68 L379.50,205.44 L377.96,203.68 C375.98,199.17 371.91,198.29 371.91,196.53 Z" fill="#6a50d0" opacity="0.5"/>
<path d="M372.60,196.50 C372.60,194.30 376.00,193.40 378.30,193.10 L379.50,192.20 L380.80,193.10 C383.50,193.40 389.00,194.10 389.00,196.50 C389.00,198.10 382.70,198.90 380.90,203.00 L379.50,204.60 L378.10,203.00 C376.30,198.90 372.60,198.10 372.60,196.50 Z" fill="#1f2f9c"/>
<path d="M373.84,196.45 C373.84,194.64 376.63,193.90 378.52,193.66 L379.50,192.92 L380.57,193.66 C382.78,193.90 387.29,194.48 387.29,196.45 C387.29,197.76 382.12,198.41 380.65,201.78 L379.50,203.09 L378.35,201.78 C376.88,198.41 373.84,197.76 373.84,196.45 Z" fill="#2a6fd0"/>
<ellipse cx="379.50" cy="196.20" rx="4.92" ry="3.4" fill="#27b0b8"/>
<ellipse cx="379.50" cy="196.20" rx="3.5" ry="2.7" fill="#4cbf55"/>
<ellipse cx="379.50" cy="196.20" rx="2.0" ry="1.6" fill="#afcf2e"/>
<ellipse cx="379.50" cy="196.20" rx="0.9" ry="0.8" fill="#e6a020"/>
</g>
<line x1="450.50" y1="164.50" x2="511.50" y2="164.50" stroke="#9a9a9a" stroke-width="0.7"/>
<line x1="511.50" y1="164.50" x2="511.50" y2="225.50" stroke="#9a9a9a" stroke-width="0.7"/>
<line x1="450.50" y1="164.50" x2="450.50" y2="225.50" stroke="#333" stroke-width="0.8"/>
<line x1="450.50" y1="225.50" x2="511.50" y2="225.50" stroke="#333" stroke-width="0.8"/>
<line x1="448.90" y1="166.00" x2="450.50" y2="166.00" stroke="#333" stroke-width="0.6"/>
<text x="447.90" y="168.20" font-size="6.3" fill="#2a2a2a" text-anchor="end">10<tspan font-size="4.0" dy="-2.5">7</tspan></text>
<line x1="448.90" y1="176.80" x2="450.50" y2="176.80" stroke="#333" stroke-width="0.6"/>
<text x="447.90" y="179.00" font-size="6.3" fill="#2a2a2a" text-anchor="end">10<tspan font-size="4.0" dy="-2.5">6</tspan></text>
<line x1="448.90" y1="187.00" x2="450.50" y2="187.00" stroke="#333" stroke-width="0.6"/>
<text x="447.90" y="189.20" font-size="6.3" fill="#2a2a2a" text-anchor="end">10<tspan font-size="4.0" dy="-2.5">5</tspan></text>
<line x1="448.90" y1="197.00" x2="450.50" y2="197.00" stroke="#333" stroke-width="0.6"/>
<text x="447.90" y="199.20" font-size="6.3" fill="#2a2a2a" text-anchor="end">10<tspan font-size="4.0" dy="-2.5">4</tspan></text>
<line x1="448.90" y1="207.20" x2="450.50" y2="207.20" stroke="#333" stroke-width="0.6"/>
<text x="447.90" y="209.40" font-size="6.3" fill="#2a2a2a" text-anchor="end">10<tspan font-size="4.0" dy="-2.5">3</tspan></text>
<line x1="448.90" y1="215.40" x2="450.50" y2="215.40" stroke="#333" stroke-width="0.6"/>
<text x="447.90" y="217.60" font-size="6.3" fill="#2a2a2a" text-anchor="end">0</text>
<line x1="448.90" y1="223.00" x2="450.50" y2="223.00" stroke="#333" stroke-width="0.6"/>
<text x="447.90" y="225.20" font-size="6.3" fill="#2a2a2a" text-anchor="end">−10<tspan font-size="4.0" dy="-2.5">3</tspan></text>
<line x1="459.00" y1="225.70" x2="468.50" y2="225.70" stroke="#222" stroke-width="1.1" stroke-dasharray="1.2,0.6" opacity="0.75"/>
<rect x="449.80" y="214.60" width="1.40" height="1.80" fill="#222" opacity="0.8"/>
<line x1="464.80" y1="225.50" x2="464.80" y2="227.10" stroke="#333" stroke-width="0.6"/>
<text x="464.80" y="235.60" font-size="6.3" fill="#2a2a2a" text-anchor="middle">0</text>
<line x1="480.40" y1="225.50" x2="480.40" y2="227.10" stroke="#333" stroke-width="0.6"/>
<text x="481.40" y="235.60" font-size="6.3" fill="#2a2a2a" text-anchor="middle">10<tspan font-size="4.0" dy="-2.5">4</tspan></text>
<line x1="491.30" y1="225.50" x2="491.30" y2="227.10" stroke="#333" stroke-width="0.6"/>
<text x="492.30" y="235.60" font-size="6.3" fill="#2a2a2a" text-anchor="middle">10<tspan font-size="4.0" dy="-2.5">5</tspan></text>
<line x1="509.00" y1="225.50" x2="509.00" y2="227.10" stroke="#333" stroke-width="0.6"/>
<text x="510.00" y="235.60" font-size="6.3" fill="#2a2a2a" text-anchor="middle">10<tspan font-size="4.0" dy="-2.5">7</tspan></text>
<line x1="452.50" y1="225.50" x2="452.50" y2="226.40" stroke="#555" stroke-width="0.4"/>
<line x1="455.50" y1="225.50" x2="455.50" y2="226.40" stroke="#555" stroke-width="0.4"/>
<line x1="458.50" y1="225.50" x2="458.50" y2="226.40" stroke="#555" stroke-width="0.4"/>
<line x1="461.50" y1="225.50" x2="461.50" y2="226.40" stroke="#555" stroke-width="0.4"/>
<line x1="464.50" y1="225.50" x2="464.50" y2="226.40" stroke="#555" stroke-width="0.4"/>
<line x1="467.50" y1="225.50" x2="467.50" y2="226.40" stroke="#555" stroke-width="0.4"/>
<line x1="470.50" y1="225.50" x2="470.50" y2="226.40" stroke="#555" stroke-width="0.4"/>
<line x1="473.50" y1="225.50" x2="473.50" y2="226.40" stroke="#555" stroke-width="0.4"/>
<line x1="476.50" y1="225.50" x2="476.50" y2="226.40" stroke="#555" stroke-width="0.4"/>
<line x1="479.50" y1="225.50" x2="479.50" y2="226.40" stroke="#555" stroke-width="0.4"/>
<line x1="482.50" y1="225.50" x2="482.50" y2="226.40" stroke="#555" stroke-width="0.4"/>
<line x1="485.50" y1="225.50" x2="485.50" y2="226.40" stroke="#555" stroke-width="0.4"/>
<line x1="488.50" y1="225.50" x2="488.50" y2="226.40" stroke="#555" stroke-width="0.4"/>
<line x1="491.50" y1="225.50" x2="491.50" y2="226.40" stroke="#555" stroke-width="0.4"/>
<line x1="494.50" y1="225.50" x2="494.50" y2="226.40" stroke="#555" stroke-width="0.4"/>
<line x1="497.50" y1="225.50" x2="497.50" y2="226.40" stroke="#555" stroke-width="0.4"/>
<line x1="500.50" y1="225.50" x2="500.50" y2="226.40" stroke="#555" stroke-width="0.4"/>
<line x1="503.50" y1="225.50" x2="503.50" y2="226.40" stroke="#555" stroke-width="0.4"/>
<line x1="506.50" y1="225.50" x2="506.50" y2="226.40" stroke="#555" stroke-width="0.4"/>
<line x1="509.50" y1="225.50" x2="509.50" y2="226.40" stroke="#555" stroke-width="0.4"/>
<text x="481.60" y="160.70" font-size="8.4" fill="#cc2a4a" text-anchor="middle" textLength="18.30" lengthAdjust="spacingAndGlyphs">MDF</text>
<rect x="472.50" y="187.50" width="23.00" height="21.00" fill="none" stroke="#555" stroke-width="0.7"/>
<text x="484.20" y="220.10" font-size="6.6" fill="#2a2a2a" text-anchor="middle">2.1</text>
<g filter="url(#bl)">
<path d="M470.50,196.30 C476.50,195.70 482.50,196.30 482.50,197.90 C482.50,199.50 476.50,199.90 470.50,199.70 Z" fill="#8f8fe0" opacity="0.75"/>
<path d="M470.50,196.90 L477.50,197.10 L477.50,198.90 L470.50,199.10 Z" fill="#3a48c8" opacity="0.8"/>
<path d="M457.12,198.23 C457.12,195.81 460.75,193.28 463.28,192.95 L464.60,191.96 L466.03,192.95 C469.00,193.28 474.39,195.59 474.39,198.23 C474.39,199.99 468.12,200.87 466.14,204.17 L464.60,205.93 L463.06,204.17 C461.08,200.87 457.12,199.99 457.12,198.23 Z" fill="#6a50d0" opacity="0.5"/>
<path d="M457.80,198.20 C457.80,196.00 461.10,193.70 463.40,193.40 L464.60,192.50 L465.90,193.40 C468.60,193.70 473.50,195.80 473.50,198.20 C473.50,199.80 467.80,200.60 466.00,203.60 L464.60,205.20 L463.20,203.60 C461.40,200.60 457.80,199.80 457.80,198.20 Z" fill="#1f2f9c"/>
<path d="M459.02,198.15 C459.02,196.34 461.73,194.46 463.62,194.21 L464.60,193.47 L465.67,194.21 C467.88,194.46 471.90,196.18 471.90,198.15 C471.90,199.46 467.22,200.11 465.75,202.57 L464.60,203.89 L463.45,202.57 C461.98,200.11 459.02,199.46 459.02,198.15 Z" fill="#2a6fd0"/>
<ellipse cx="464.60" cy="197.90" rx="4.71" ry="3.4" fill="#27b0b8"/>
<ellipse cx="464.60" cy="197.90" rx="3.5" ry="2.7" fill="#4cbf55"/>
<ellipse cx="464.60" cy="197.90" rx="2.0" ry="1.6" fill="#afcf2e"/>
<ellipse cx="464.60" cy="197.90" rx="0.9" ry="0.8" fill="#e6a020"/>
</g>
<line x1="260.90" y1="226.60" x2="260.90" y2="163.00" stroke="#2a2a2a" stroke-width="1.4"/>
<path d="M258.7,163.8 L261,158.8 L263.3,163.8 Z" stroke="none" stroke-width="1" fill="#222" />
<text x="258.60" y="220.60" font-size="9.2" fill="#2a2a2a" text-anchor="middle" textLength="12.40" lengthAdjust="spacingAndGlyphs" transform="rotate(-90 258.60 220.60)">CD3</text>
<line x1="274.00" y1="240.50" x2="507.00" y2="240.50" stroke="#2a2a2a" stroke-width="1.3"/>
<path d="M506,238.4 L511.6,240.6 L506,242.8 Z" stroke="none" stroke-width="1" fill="#222" />
<text x="275.20" y="250.80" font-size="7.4" fill="#2a2a2a" textLength="43.80" lengthAdjust="spacingAndGlyphs">anti-CD19 CAR</text>
<line x1="59.50" y1="304.60" x2="59.50" y2="360.70" stroke="#222" stroke-width="1.2"/>
<line x1="59.00" y1="360.20" x2="132.50" y2="360.20" stroke="#222" stroke-width="1.2"/>
<line x1="56.90" y1="357.20" x2="59.50" y2="357.20" stroke="#222" stroke-width="1.0"/>
<text x="54.60" y="359.50" font-size="6.6" fill="#2a2a2a" text-anchor="end">10<tspan font-size="4.3" dy="-2.7">6</tspan></text>
<line x1="56.90" y1="347.20" x2="59.50" y2="347.20" stroke="#222" stroke-width="1.0"/>
<text x="54.60" y="349.50" font-size="6.6" fill="#2a2a2a" text-anchor="end">10<tspan font-size="4.3" dy="-2.7">7</tspan></text>
<line x1="56.90" y1="337.20" x2="59.50" y2="337.20" stroke="#222" stroke-width="1.0"/>
<text x="54.60" y="339.50" font-size="6.6" fill="#2a2a2a" text-anchor="end">10<tspan font-size="4.3" dy="-2.7">8</tspan></text>
<line x1="56.90" y1="327.20" x2="59.50" y2="327.20" stroke="#222" stroke-width="1.0"/>
<text x="54.60" y="329.50" font-size="6.6" fill="#2a2a2a" text-anchor="end">10<tspan font-size="4.3" dy="-2.7">9</tspan></text>
<line x1="56.90" y1="317.20" x2="59.50" y2="317.20" stroke="#222" stroke-width="1.0"/>
<text x="54.60" y="319.50" font-size="6.6" fill="#2a2a2a" text-anchor="end">10<tspan font-size="4.3" dy="-2.7">10</tspan></text>
<line x1="56.90" y1="307.20" x2="59.50" y2="307.20" stroke="#222" stroke-width="1.0"/>
<text x="54.60" y="309.50" font-size="6.6" fill="#2a2a2a" text-anchor="end">10<tspan font-size="4.3" dy="-2.7">11</tspan></text>
<line x1="64.50" y1="360.20" x2="64.50" y2="362.60" stroke="#222" stroke-width="1.0"/>
<text x="64.50" y="372.30" font-size="6.3" fill="#2a2a2a" text-anchor="middle">−1</text>
<line x1="73.65" y1="360.20" x2="73.65" y2="362.60" stroke="#222" stroke-width="1.0"/>
<text x="73.65" y="372.30" font-size="6.3" fill="#2a2a2a" text-anchor="middle">6</text>
<line x1="82.80" y1="360.20" x2="82.80" y2="362.60" stroke="#222" stroke-width="1.0"/>
<text x="82.80" y="372.30" font-size="6.3" fill="#2a2a2a" text-anchor="middle">13</text>
<line x1="91.95" y1="360.20" x2="91.95" y2="362.60" stroke="#222" stroke-width="1.0"/>
<text x="91.95" y="372.30" font-size="6.3" fill="#2a2a2a" text-anchor="middle">20</text>
<line x1="101.10" y1="360.20" x2="101.10" y2="362.60" stroke="#222" stroke-width="1.0"/>
<text x="101.10" y="372.30" font-size="6.3" fill="#2a2a2a" text-anchor="middle">27</text>
<line x1="110.25" y1="360.20" x2="110.25" y2="362.60" stroke="#222" stroke-width="1.0"/>
<text x="110.25" y="372.30" font-size="6.3" fill="#2a2a2a" text-anchor="middle">34</text>
<line x1="119.40" y1="360.20" x2="119.40" y2="362.60" stroke="#222" stroke-width="1.0"/>
<text x="119.40" y="372.30" font-size="6.3" fill="#2a2a2a" text-anchor="middle">41</text>
<line x1="128.55" y1="360.20" x2="128.55" y2="362.60" stroke="#222" stroke-width="1.0"/>
<text x="128.55" y="372.30" font-size="6.3" fill="#2a2a2a" text-anchor="middle">48</text>
<text x="96.30" y="384.10" font-size="7.2" fill="#2a2a2a" text-anchor="middle" textLength="11.00" lengthAdjust="spacingAndGlyphs">Day</text>
<text x="96.75" y="299.60" font-size="8.6" fill="#222" text-anchor="middle" textLength="34.90" lengthAdjust="spacingAndGlyphs">10e6 TUs</text>
<text x="84.50" y="318.70" font-size="6.5" fill="#2a2a2a" text-anchor="middle" textLength="14.60" lengthAdjust="spacingAndGlyphs">n = 7</text>
<text x="26.50" y="332.50" font-size="7.6" fill="#2a2a2a" text-anchor="middle" textLength="14.60" lengthAdjust="spacingAndGlyphs" transform="rotate(-90 26.50 332.50)">FLUX</text>
<text x="37.30" y="332.50" font-size="7.6" fill="#2a2a2a" text-anchor="middle" textLength="53.00" lengthAdjust="spacingAndGlyphs" transform="rotate(-90 37.30 332.50)">(photons/second)</text>
<polyline points="64.50,355.20 73.65,333.20 82.80,352.20 91.95,355.20 101.10,336.20 110.25,323.20 119.40,317.70 128.55,312.20" fill="none" stroke="#5572a8" stroke-width="0.75" stroke-linejoin="round"/>
<rect x="63.70" y="354.40" width="1.60" height="1.60" fill="#5572a8"/>
<rect x="72.85" y="332.40" width="1.60" height="1.60" fill="#5572a8"/>
<rect x="82.00" y="351.40" width="1.60" height="1.60" fill="#5572a8"/>
<rect x="91.15" y="354.40" width="1.60" height="1.60" fill="#5572a8"/>
<rect x="100.30" y="335.40" width="1.60" height="1.60" fill="#5572a8"/>
<rect x="109.45" y="322.40" width="1.60" height="1.60" fill="#5572a8"/>
<rect x="118.60" y="316.90" width="1.60" height="1.60" fill="#5572a8"/>
<rect x="127.75" y="311.40" width="1.60" height="1.60" fill="#5572a8"/>
<polyline points="64.50,354.20 73.65,327.20 82.80,349.20 91.95,344.20 101.10,352.20 110.25,327.20 119.40,323.20 128.55,313.70" fill="none" stroke="#5572a8" stroke-width="0.75" stroke-linejoin="round"/>
<rect x="63.70" y="353.40" width="1.60" height="1.60" fill="#5572a8"/>
<rect x="72.85" y="326.40" width="1.60" height="1.60" fill="#5572a8"/>
<rect x="82.00" y="348.40" width="1.60" height="1.60" fill="#5572a8"/>
<rect x="91.15" y="343.40" width="1.60" height="1.60" fill="#5572a8"/>
<rect x="100.30" y="351.40" width="1.60" height="1.60" fill="#5572a8"/>
<rect x="109.45" y="326.40" width="1.60" height="1.60" fill="#5572a8"/>
<rect x="118.60" y="322.40" width="1.60" height="1.60" fill="#5572a8"/>
<rect x="127.75" y="312.90" width="1.60" height="1.60" fill="#5572a8"/>
<polyline points="64.50,356.20 73.65,332.20 82.80,342.20 91.95,354.20 101.10,351.20 110.25,335.20 119.40,322.70 128.55,312.70" fill="none" stroke="#5572a8" stroke-width="0.75" stroke-linejoin="round"/>
<rect x="63.70" y="355.40" width="1.60" height="1.60" fill="#5572a8"/>
<rect x="72.85" y="331.40" width="1.60" height="1.60" fill="#5572a8"/>
<rect x="82.00" y="341.40" width="1.60" height="1.60" fill="#5572a8"/>
<rect x="91.15" y="353.40" width="1.60" height="1.60" fill="#5572a8"/>
<rect x="100.30" y="350.40" width="1.60" height="1.60" fill="#5572a8"/>
<rect x="109.45" y="334.40" width="1.60" height="1.60" fill="#5572a8"/>
<rect x="118.60" y="321.90" width="1.60" height="1.60" fill="#5572a8"/>
<rect x="127.75" y="311.90" width="1.60" height="1.60" fill="#5572a8"/>
<polyline points="64.50,355.20 73.65,334.20 82.80,354.20 91.95,354.20 101.10,352.20 110.25,339.20 119.40,327.70 128.55,325.70" fill="none" stroke="#5572a8" stroke-width="0.75" stroke-linejoin="round"/>
<rect x="63.70" y="354.40" width="1.60" height="1.60" fill="#5572a8"/>
<rect x="72.85" y="333.40" width="1.60" height="1.60" fill="#5572a8"/>
<rect x="82.00" y="353.40" width="1.60" height="1.60" fill="#5572a8"/>
<rect x="91.15" y="353.40" width="1.60" height="1.60" fill="#5572a8"/>
<rect x="100.30" y="351.40" width="1.60" height="1.60" fill="#5572a8"/>
<rect x="109.45" y="338.40" width="1.60" height="1.60" fill="#5572a8"/>
<rect x="118.60" y="326.90" width="1.60" height="1.60" fill="#5572a8"/>
<rect x="127.75" y="324.90" width="1.60" height="1.60" fill="#5572a8"/>
<polyline points="64.50,357.20 73.65,336.20 82.80,353.20 91.95,355.20 101.10,353.20 110.25,345.20 119.40,332.20 128.55,326.20" fill="none" stroke="#5572a8" stroke-width="0.75" stroke-linejoin="round"/>
<rect x="63.70" y="356.40" width="1.60" height="1.60" fill="#5572a8"/>
<rect x="72.85" y="335.40" width="1.60" height="1.60" fill="#5572a8"/>
<rect x="82.00" y="352.40" width="1.60" height="1.60" fill="#5572a8"/>
<rect x="91.15" y="354.40" width="1.60" height="1.60" fill="#5572a8"/>
<rect x="100.30" y="352.40" width="1.60" height="1.60" fill="#5572a8"/>
<rect x="109.45" y="344.40" width="1.60" height="1.60" fill="#5572a8"/>
<rect x="118.60" y="331.40" width="1.60" height="1.60" fill="#5572a8"/>
<rect x="127.75" y="325.40" width="1.60" height="1.60" fill="#5572a8"/>
<polyline points="64.50,355.20 73.65,342.20 82.80,355.20 91.95,355.20 101.10,353.20 110.25,349.20 119.40,337.20 128.55,333.70" fill="none" stroke="#5572a8" stroke-width="0.75" stroke-linejoin="round"/>
<rect x="63.70" y="354.40" width="1.60" height="1.60" fill="#5572a8"/>
<rect x="72.85" y="341.40" width="1.60" height="1.60" fill="#5572a8"/>
<rect x="82.00" y="354.40" width="1.60" height="1.60" fill="#5572a8"/>
<rect x="91.15" y="354.40" width="1.60" height="1.60" fill="#5572a8"/>
<rect x="100.30" y="352.40" width="1.60" height="1.60" fill="#5572a8"/>
<rect x="109.45" y="348.40" width="1.60" height="1.60" fill="#5572a8"/>
<rect x="118.60" y="336.40" width="1.60" height="1.60" fill="#5572a8"/>
<rect x="127.75" y="332.90" width="1.60" height="1.60" fill="#5572a8"/>
<polyline points="64.50,356.20 73.65,335.20 82.80,355.20 91.95,358.20 101.10,357.20 110.25,354.20 119.40,347.20 128.55,345.20" fill="none" stroke="#5572a8" stroke-width="0.75" stroke-linejoin="round"/>
<rect x="63.70" y="355.40" width="1.60" height="1.60" fill="#5572a8"/>
<rect x="72.85" y="334.40" width="1.60" height="1.60" fill="#5572a8"/>
<rect x="82.00" y="354.40" width="1.60" height="1.60" fill="#5572a8"/>
<rect x="91.15" y="357.40" width="1.60" height="1.60" fill="#5572a8"/>
<rect x="100.30" y="356.40" width="1.60" height="1.60" fill="#5572a8"/>
<rect x="109.45" y="353.40" width="1.60" height="1.60" fill="#5572a8"/>
<rect x="118.60" y="346.40" width="1.60" height="1.60" fill="#5572a8"/>
<rect x="127.75" y="344.40" width="1.60" height="1.60" fill="#5572a8"/>
<line x1="188.80" y1="304.80" x2="188.80" y2="361.30" stroke="#222" stroke-width="1.2"/>
<line x1="188.30" y1="360.80" x2="261.50" y2="360.80" stroke="#222" stroke-width="1.2"/>
<line x1="186.20" y1="357.30" x2="188.80" y2="357.30" stroke="#222" stroke-width="1.0"/>
<text x="183.90" y="359.60" font-size="6.6" fill="#2a2a2a" text-anchor="end">10<tspan font-size="4.3" dy="-2.7">6</tspan></text>
<line x1="186.20" y1="347.22" x2="188.80" y2="347.22" stroke="#222" stroke-width="1.0"/>
<text x="183.90" y="349.52" font-size="6.6" fill="#2a2a2a" text-anchor="end">10<tspan font-size="4.3" dy="-2.7">7</tspan></text>
<line x1="186.20" y1="337.14" x2="188.80" y2="337.14" stroke="#222" stroke-width="1.0"/>
<text x="183.90" y="339.44" font-size="6.6" fill="#2a2a2a" text-anchor="end">10<tspan font-size="4.3" dy="-2.7">8</tspan></text>
<line x1="186.20" y1="327.06" x2="188.80" y2="327.06" stroke="#222" stroke-width="1.0"/>
<text x="183.90" y="329.36" font-size="6.6" fill="#2a2a2a" text-anchor="end">10<tspan font-size="4.3" dy="-2.7">9</tspan></text>
<line x1="186.20" y1="316.98" x2="188.80" y2="316.98" stroke="#222" stroke-width="1.0"/>
<text x="183.90" y="319.28" font-size="6.6" fill="#2a2a2a" text-anchor="end">10<tspan font-size="4.3" dy="-2.7">10</tspan></text>
<line x1="186.20" y1="306.90" x2="188.80" y2="306.90" stroke="#222" stroke-width="1.0"/>
<text x="183.90" y="309.20" font-size="6.6" fill="#2a2a2a" text-anchor="end">10<tspan font-size="4.3" dy="-2.7">11</tspan></text>
<line x1="193.70" y1="360.80" x2="193.70" y2="363.20" stroke="#222" stroke-width="1.0"/>
<text x="193.70" y="372.30" font-size="6.3" fill="#2a2a2a" text-anchor="middle">−1</text>
<line x1="202.85" y1="360.80" x2="202.85" y2="363.20" stroke="#222" stroke-width="1.0"/>
<text x="202.85" y="372.30" font-size="6.3" fill="#2a2a2a" text-anchor="middle">6</text>
<line x1="212.00" y1="360.80" x2="212.00" y2="363.20" stroke="#222" stroke-width="1.0"/>
<text x="212.00" y="372.30" font-size="6.3" fill="#2a2a2a" text-anchor="middle">13</text>
<line x1="221.15" y1="360.80" x2="221.15" y2="363.20" stroke="#222" stroke-width="1.0"/>
<text x="221.15" y="372.30" font-size="6.3" fill="#2a2a2a" text-anchor="middle">20</text>
<line x1="230.30" y1="360.80" x2="230.30" y2="363.20" stroke="#222" stroke-width="1.0"/>
<text x="230.30" y="372.30" font-size="6.3" fill="#2a2a2a" text-anchor="middle">27</text>
<line x1="239.45" y1="360.80" x2="239.45" y2="363.20" stroke="#222" stroke-width="1.0"/>
<text x="239.45" y="372.30" font-size="6.3" fill="#2a2a2a" text-anchor="middle">34</text>
<line x1="248.60" y1="360.80" x2="248.60" y2="363.20" stroke="#222" stroke-width="1.0"/>
<text x="248.60" y="372.30" font-size="6.3" fill="#2a2a2a" text-anchor="middle">41</text>
<line x1="257.75" y1="360.80" x2="257.75" y2="363.20" stroke="#222" stroke-width="1.0"/>
<text x="257.75" y="372.30" font-size="6.3" fill="#2a2a2a" text-anchor="middle">48</text>
<text x="225.40" y="384.10" font-size="7.2" fill="#2a2a2a" text-anchor="middle" textLength="11.00" lengthAdjust="spacingAndGlyphs">Day</text>
<text x="225.70" y="300.00" font-size="8.6" fill="#222" text-anchor="middle" textLength="36.00" lengthAdjust="spacingAndGlyphs">50e6 TUs</text>
<text x="212.40" y="318.40" font-size="6.5" fill="#2a2a2a" text-anchor="middle" textLength="14.60" lengthAdjust="spacingAndGlyphs">n = 7</text>
<text x="155.50" y="332.50" font-size="7.6" fill="#2a2a2a" text-anchor="middle" textLength="14.60" lengthAdjust="spacingAndGlyphs" transform="rotate(-90 155.50 332.50)">FLUX</text>
<text x="165.60" y="332.50" font-size="7.6" fill="#2a2a2a" text-anchor="middle" textLength="53.00" lengthAdjust="spacingAndGlyphs" transform="rotate(-90 165.60 332.50)">(photons/second)</text>
<polyline points="193.70,356.29 202.85,352.26 212.00,354.28 221.15,356.29 230.30,335.63 239.45,328.07 248.60,321.01 257.75,314.96" fill="none" stroke="#22568f" stroke-width="0.8" stroke-linejoin="round"/>
<rect x="192.85" y="355.44" width="1.70" height="1.70" fill="#22568f"/>
<rect x="202.00" y="351.41" width="1.70" height="1.70" fill="#22568f"/>
<rect x="211.15" y="353.43" width="1.70" height="1.70" fill="#22568f"/>
<rect x="220.30" y="355.44" width="1.70" height="1.70" fill="#22568f"/>
<rect x="229.45" y="334.78" width="1.70" height="1.70" fill="#22568f"/>
<rect x="238.60" y="327.22" width="1.70" height="1.70" fill="#22568f"/>
<rect x="247.75" y="320.16" width="1.70" height="1.70" fill="#22568f"/>
<rect x="256.90" y="314.11" width="1.70" height="1.70" fill="#22568f"/>
<polyline points="193.70,357.30 202.85,335.63 212.00,352.26 221.15,355.28 230.30,354.28 239.45,345.20 248.60,343.19 257.75,334.12" fill="none" stroke="#22568f" stroke-width="0.8" stroke-linejoin="round"/>
<rect x="192.85" y="356.45" width="1.70" height="1.70" fill="#22568f"/>
<rect x="202.00" y="334.78" width="1.70" height="1.70" fill="#22568f"/>
<rect x="211.15" y="351.41" width="1.70" height="1.70" fill="#22568f"/>
<rect x="220.30" y="354.43" width="1.70" height="1.70" fill="#22568f"/>
<rect x="229.45" y="353.43" width="1.70" height="1.70" fill="#22568f"/>
<rect x="238.60" y="344.35" width="1.70" height="1.70" fill="#22568f"/>
<rect x="247.75" y="342.34" width="1.70" height="1.70" fill="#22568f"/>
<rect x="256.90" y="333.27" width="1.70" height="1.70" fill="#22568f"/>
<polyline points="193.70,355.28 202.85,341.17 212.00,353.27 221.15,355.28 230.30,354.28 239.45,350.24 248.60,345.20 257.75,338.15" fill="none" stroke="#22568f" stroke-width="0.8" stroke-linejoin="round"/>
<rect x="192.85" y="354.43" width="1.70" height="1.70" fill="#22568f"/>
<rect x="202.00" y="340.32" width="1.70" height="1.70" fill="#22568f"/>
<rect x="211.15" y="352.42" width="1.70" height="1.70" fill="#22568f"/>
<rect x="220.30" y="354.43" width="1.70" height="1.70" fill="#22568f"/>
<rect x="229.45" y="353.43" width="1.70" height="1.70" fill="#22568f"/>
<rect x="238.60" y="349.39" width="1.70" height="1.70" fill="#22568f"/>
<rect x="247.75" y="344.35" width="1.70" height="1.70" fill="#22568f"/>
<rect x="256.90" y="337.30" width="1.70" height="1.70" fill="#22568f"/>
<polyline points="193.70,354.28 202.85,345.20 212.00,353.27 221.15,356.29 230.30,354.28 239.45,352.26 248.60,348.23 257.75,341.17" fill="none" stroke="#22568f" stroke-width="0.8" stroke-linejoin="round"/>
<rect x="192.85" y="353.43" width="1.70" height="1.70" fill="#22568f"/>
<rect x="202.00" y="344.35" width="1.70" height="1.70" fill="#22568f"/>
<rect x="211.15" y="352.42" width="1.70" height="1.70" fill="#22568f"/>
<rect x="220.30" y="355.44" width="1.70" height="1.70" fill="#22568f"/>
<rect x="229.45" y="353.43" width="1.70" height="1.70" fill="#22568f"/>
<rect x="238.60" y="351.41" width="1.70" height="1.70" fill="#22568f"/>
<rect x="247.75" y="347.38" width="1.70" height="1.70" fill="#22568f"/>
<rect x="256.90" y="340.32" width="1.70" height="1.70" fill="#22568f"/>
<polyline points="193.70,356.29 202.85,348.23 212.00,354.28 221.15,355.28 230.30,355.28 239.45,353.27 248.60,348.23 257.75,345.20" fill="none" stroke="#22568f" stroke-width="0.8" stroke-linejoin="round"/>
<rect x="192.85" y="355.44" width="1.70" height="1.70" fill="#22568f"/>
<rect x="202.00" y="347.38" width="1.70" height="1.70" fill="#22568f"/>
<rect x="211.15" y="353.43" width="1.70" height="1.70" fill="#22568f"/>
<rect x="220.30" y="354.43" width="1.70" height="1.70" fill="#22568f"/>
<rect x="229.45" y="354.43" width="1.70" height="1.70" fill="#22568f"/>
<rect x="238.60" y="352.42" width="1.70" height="1.70" fill="#22568f"/>
<rect x="247.75" y="347.38" width="1.70" height="1.70" fill="#22568f"/>
<rect x="256.90" y="344.35" width="1.70" height="1.70" fill="#22568f"/>
<polyline points="193.70,355.28 202.85,351.25 212.00,353.27 221.15,355.28 230.30,353.27 239.45,345.20 248.60,344.20 257.75,339.16" fill="none" stroke="#22568f" stroke-width="0.8" stroke-linejoin="round"/>
<rect x="192.85" y="354.43" width="1.70" height="1.70" fill="#22568f"/>
<rect x="202.00" y="350.40" width="1.70" height="1.70" fill="#22568f"/>
<rect x="211.15" y="352.42" width="1.70" height="1.70" fill="#22568f"/>
<rect x="220.30" y="354.43" width="1.70" height="1.70" fill="#22568f"/>
<rect x="229.45" y="352.42" width="1.70" height="1.70" fill="#22568f"/>
<rect x="238.60" y="344.35" width="1.70" height="1.70" fill="#22568f"/>
<rect x="247.75" y="343.35" width="1.70" height="1.70" fill="#22568f"/>
<rect x="256.90" y="338.31" width="1.70" height="1.70" fill="#22568f"/>
<polyline points="193.70,356.29 202.85,352.26 212.00,354.28 221.15,356.29 230.30,355.28 239.45,355.28 248.60,354.28 257.75,351.25" fill="none" stroke="#22568f" stroke-width="0.8" stroke-linejoin="round"/>
<rect x="192.85" y="355.44" width="1.70" height="1.70" fill="#22568f"/>
<rect x="202.00" y="351.41" width="1.70" height="1.70" fill="#22568f"/>
<rect x="211.15" y="353.43" width="1.70" height="1.70" fill="#22568f"/>
<rect x="220.30" y="355.44" width="1.70" height="1.70" fill="#22568f"/>
<rect x="229.45" y="354.43" width="1.70" height="1.70" fill="#22568f"/>
<rect x="238.60" y="354.43" width="1.70" height="1.70" fill="#22568f"/>
<rect x="247.75" y="353.43" width="1.70" height="1.70" fill="#22568f"/>
<rect x="256.90" y="350.40" width="1.70" height="1.70" fill="#22568f"/>
<line x1="318.00" y1="304.60" x2="318.00" y2="360.00" stroke="#222" stroke-width="1.2"/>
<line x1="317.50" y1="359.50" x2="378.50" y2="359.50" stroke="#222" stroke-width="1.2"/>
<line x1="315.40" y1="357.20" x2="318.00" y2="357.20" stroke="#222" stroke-width="1.0"/>
<text x="313.10" y="359.50" font-size="6.6" fill="#2a2a2a" text-anchor="end">10<tspan font-size="4.3" dy="-2.7">6</tspan></text>
<line x1="315.40" y1="347.06" x2="318.00" y2="347.06" stroke="#222" stroke-width="1.0"/>
<text x="313.10" y="349.36" font-size="6.6" fill="#2a2a2a" text-anchor="end">10<tspan font-size="4.3" dy="-2.7">7</tspan></text>
<line x1="315.40" y1="336.92" x2="318.00" y2="336.92" stroke="#222" stroke-width="1.0"/>
<text x="313.10" y="339.22" font-size="6.6" fill="#2a2a2a" text-anchor="end">10<tspan font-size="4.3" dy="-2.7">8</tspan></text>
<line x1="315.40" y1="326.78" x2="318.00" y2="326.78" stroke="#222" stroke-width="1.0"/>
<text x="313.10" y="329.08" font-size="6.6" fill="#2a2a2a" text-anchor="end">10<tspan font-size="4.3" dy="-2.7">9</tspan></text>
<line x1="315.40" y1="316.64" x2="318.00" y2="316.64" stroke="#222" stroke-width="1.0"/>
<text x="313.10" y="318.94" font-size="6.6" fill="#2a2a2a" text-anchor="end">10<tspan font-size="4.3" dy="-2.7">10</tspan></text>
<line x1="315.40" y1="306.50" x2="318.00" y2="306.50" stroke="#222" stroke-width="1.0"/>
<text x="313.10" y="308.80" font-size="6.6" fill="#2a2a2a" text-anchor="end">10<tspan font-size="4.3" dy="-2.7">11</tspan></text>
<line x1="325.80" y1="359.50" x2="325.80" y2="361.90" stroke="#222" stroke-width="1.0"/>
<text x="325.80" y="372.00" font-size="6.8" fill="#2a2a2a" text-anchor="middle">−1</text>
<line x1="340.90" y1="359.50" x2="340.90" y2="361.90" stroke="#222" stroke-width="1.0"/>
<text x="340.90" y="372.00" font-size="6.8" fill="#2a2a2a" text-anchor="middle">6</text>
<line x1="356.00" y1="359.50" x2="356.00" y2="361.90" stroke="#222" stroke-width="1.0"/>
<text x="356.00" y="372.00" font-size="6.8" fill="#2a2a2a" text-anchor="middle">13</text>
<line x1="371.10" y1="359.50" x2="371.10" y2="361.90" stroke="#222" stroke-width="1.0"/>
<text x="371.10" y="372.00" font-size="6.8" fill="#2a2a2a" text-anchor="middle">20</text>
<text x="348.50" y="384.10" font-size="7.2" fill="#2a2a2a" text-anchor="middle" textLength="11.00" lengthAdjust="spacingAndGlyphs">Day</text>
<text x="348.45" y="299.40" font-size="8.6" fill="#c8c8c8" text-anchor="middle" textLength="27.70" lengthAdjust="spacingAndGlyphs">Vehicle</text>
<text x="369.80" y="341.00" font-size="6.5" fill="#2a2a2a" text-anchor="middle" textLength="14.60" lengthAdjust="spacingAndGlyphs">n = 3</text>
<text x="285.40" y="332.50" font-size="7.6" fill="#2a2a2a" text-anchor="middle" textLength="14.60" lengthAdjust="spacingAndGlyphs" transform="rotate(-90 285.40 332.50)">FLUX</text>
<text x="295.70" y="332.50" font-size="7.6" fill="#2a2a2a" text-anchor="middle" textLength="53.00" lengthAdjust="spacingAndGlyphs" transform="rotate(-90 295.70 332.50)">(photons/second)</text>
<polyline points="325.80,355.17 340.90,331.85 356.00,318.67 371.10,315.63" fill="none" stroke="#bdbdbd" stroke-width="1.2" stroke-linejoin="round"/>
<rect x="324.60" y="353.97" width="2.40" height="2.40" fill="#bdbdbd"/>
<rect x="339.70" y="330.65" width="2.40" height="2.40" fill="#bdbdbd"/>
<rect x="354.80" y="317.47" width="2.40" height="2.40" fill="#bdbdbd"/>
<rect x="369.90" y="314.43" width="2.40" height="2.40" fill="#bdbdbd"/>
<polyline points="325.80,355.68 340.90,336.92 356.00,319.68 371.10,316.64" fill="none" stroke="#bdbdbd" stroke-width="1.2" stroke-linejoin="round"/>
<rect x="324.60" y="354.48" width="2.40" height="2.40" fill="#bdbdbd"/>
<rect x="339.70" y="335.72" width="2.40" height="2.40" fill="#bdbdbd"/>
<rect x="354.80" y="318.48" width="2.40" height="2.40" fill="#bdbdbd"/>
<rect x="369.90" y="315.44" width="2.40" height="2.40" fill="#bdbdbd"/>
<polyline points="325.80,355.17 340.90,333.88 356.00,317.65 371.10,314.61" fill="none" stroke="#bdbdbd" stroke-width="1.2" stroke-linejoin="round"/>
<rect x="324.60" y="353.97" width="2.40" height="2.40" fill="#bdbdbd"/>
<rect x="339.70" y="332.68" width="2.40" height="2.40" fill="#bdbdbd"/>
<rect x="354.80" y="316.45" width="2.40" height="2.40" fill="#bdbdbd"/>
<rect x="369.90" y="313.41" width="2.40" height="2.40" fill="#bdbdbd"/>
<line x1="60.00" y1="431.50" x2="60.00" y2="487.00" stroke="#222" stroke-width="1.2"/>
<line x1="59.50" y1="486.50" x2="132.50" y2="486.50" stroke="#222" stroke-width="1.2"/>
<line x1="57.40" y1="483.80" x2="60.00" y2="483.80" stroke="#222" stroke-width="1.0"/>
<text x="55.10" y="486.10" font-size="6.6" fill="#2a2a2a" text-anchor="end">10<tspan font-size="4.3" dy="-2.7">6</tspan></text>
<line x1="57.40" y1="473.72" x2="60.00" y2="473.72" stroke="#222" stroke-width="1.0"/>
<text x="55.10" y="476.02" font-size="6.6" fill="#2a2a2a" text-anchor="end">10<tspan font-size="4.3" dy="-2.7">7</tspan></text>
<line x1="57.40" y1="463.64" x2="60.00" y2="463.64" stroke="#222" stroke-width="1.0"/>
<text x="55.10" y="465.94" font-size="6.6" fill="#2a2a2a" text-anchor="end">10<tspan font-size="4.3" dy="-2.7">8</tspan></text>
<line x1="57.40" y1="453.56" x2="60.00" y2="453.56" stroke="#222" stroke-width="1.0"/>
<text x="55.10" y="455.86" font-size="6.6" fill="#2a2a2a" text-anchor="end">10<tspan font-size="4.3" dy="-2.7">9</tspan></text>
<line x1="57.40" y1="443.48" x2="60.00" y2="443.48" stroke="#222" stroke-width="1.0"/>
<text x="55.10" y="445.78" font-size="6.6" fill="#2a2a2a" text-anchor="end">10<tspan font-size="4.3" dy="-2.7">10</tspan></text>
<line x1="57.40" y1="433.40" x2="60.00" y2="433.40" stroke="#222" stroke-width="1.0"/>
<text x="55.10" y="435.70" font-size="6.6" fill="#2a2a2a" text-anchor="end">10<tspan font-size="4.3" dy="-2.7">11</tspan></text>
<line x1="64.50" y1="486.50" x2="64.50" y2="488.90" stroke="#222" stroke-width="1.0"/>
<text x="64.50" y="498.80" font-size="6.3" fill="#2a2a2a" text-anchor="middle">−1</text>
<line x1="73.70" y1="486.50" x2="73.70" y2="488.90" stroke="#222" stroke-width="1.0"/>
<text x="73.70" y="498.80" font-size="6.3" fill="#2a2a2a" text-anchor="middle">6</text>
<line x1="82.90" y1="486.50" x2="82.90" y2="488.90" stroke="#222" stroke-width="1.0"/>
<text x="82.90" y="498.80" font-size="6.3" fill="#2a2a2a" text-anchor="middle">13</text>
<line x1="92.10" y1="486.50" x2="92.10" y2="488.90" stroke="#222" stroke-width="1.0"/>
<text x="92.10" y="498.80" font-size="6.3" fill="#2a2a2a" text-anchor="middle">20</text>
<line x1="101.30" y1="486.50" x2="101.30" y2="488.90" stroke="#222" stroke-width="1.0"/>
<text x="101.30" y="498.80" font-size="6.3" fill="#2a2a2a" text-anchor="middle">27</text>
<line x1="110.50" y1="486.50" x2="110.50" y2="488.90" stroke="#222" stroke-width="1.0"/>
<text x="110.50" y="498.80" font-size="6.3" fill="#2a2a2a" text-anchor="middle">34</text>
<line x1="119.70" y1="486.50" x2="119.70" y2="488.90" stroke="#222" stroke-width="1.0"/>
<text x="119.70" y="498.80" font-size="6.3" fill="#2a2a2a" text-anchor="middle">41</text>
<line x1="128.90" y1="486.50" x2="128.90" y2="488.90" stroke="#222" stroke-width="1.0"/>
<text x="128.90" y="498.80" font-size="6.3" fill="#2a2a2a" text-anchor="middle">48</text>
<text x="96.50" y="509.90" font-size="7.2" fill="#2a2a2a" text-anchor="middle" textLength="11.00" lengthAdjust="spacingAndGlyphs">Day</text>
<text x="97.30" y="425.70" font-size="8.6" fill="#222" text-anchor="middle" textLength="34.80" lengthAdjust="spacingAndGlyphs">10e6 TUs</text>
<text x="85.00" y="445.20" font-size="6.5" fill="#2a2a2a" text-anchor="middle" textLength="14.60" lengthAdjust="spacingAndGlyphs">n = 8</text>
<text x="25.70" y="459.00" font-size="7.6" fill="#2a2a2a" text-anchor="middle" textLength="14.60" lengthAdjust="spacingAndGlyphs" transform="rotate(-90 25.70 459.00)">FLUX</text>
<text x="37.30" y="459.00" font-size="7.6" fill="#2a2a2a" text-anchor="middle" textLength="53.00" lengthAdjust="spacingAndGlyphs" transform="rotate(-90 37.30 459.00)">(photons/second)</text>
<polyline points="64.50,481.78 73.70,455.07 82.90,472.71 92.10,480.78 101.30,468.68 110.50,466.66 119.70,459.61 128.90,455.07" fill="none" stroke="#dd5a5a" stroke-width="0.75" stroke-linejoin="round"/>
<rect x="63.70" y="480.98" width="1.60" height="1.60" fill="#dd5a5a"/>
<rect x="72.90" y="454.27" width="1.60" height="1.60" fill="#dd5a5a"/>
<rect x="82.10" y="471.91" width="1.60" height="1.60" fill="#dd5a5a"/>
<rect x="91.30" y="479.98" width="1.60" height="1.60" fill="#dd5a5a"/>
<rect x="100.50" y="467.88" width="1.60" height="1.60" fill="#dd5a5a"/>
<rect x="109.70" y="465.86" width="1.60" height="1.60" fill="#dd5a5a"/>
<rect x="118.90" y="458.81" width="1.60" height="1.60" fill="#dd5a5a"/>
<rect x="128.10" y="454.27" width="1.60" height="1.60" fill="#dd5a5a"/>
<polyline points="64.50,482.79 73.70,463.64 82.90,477.75 92.10,481.78 101.30,481.78 110.50,473.72 119.70,463.64 128.90,447.51" fill="none" stroke="#dd5a5a" stroke-width="0.75" stroke-linejoin="round"/>
<rect x="63.70" y="481.99" width="1.60" height="1.60" fill="#dd5a5a"/>
<rect x="72.90" y="462.84" width="1.60" height="1.60" fill="#dd5a5a"/>
<rect x="82.10" y="476.95" width="1.60" height="1.60" fill="#dd5a5a"/>
<rect x="91.30" y="480.98" width="1.60" height="1.60" fill="#dd5a5a"/>
<rect x="100.50" y="480.98" width="1.60" height="1.60" fill="#dd5a5a"/>
<rect x="109.70" y="472.92" width="1.60" height="1.60" fill="#dd5a5a"/>
<rect x="118.90" y="462.84" width="1.60" height="1.60" fill="#dd5a5a"/>
<rect x="128.10" y="446.71" width="1.60" height="1.60" fill="#dd5a5a"/>
<polyline points="64.50,481.78 73.70,466.66 82.90,478.76 92.10,482.79 101.30,482.79 110.50,481.78 119.70,478.76 128.90,467.67" fill="none" stroke="#dd5a5a" stroke-width="0.75" stroke-linejoin="round"/>
<rect x="63.70" y="480.98" width="1.60" height="1.60" fill="#dd5a5a"/>
<rect x="72.90" y="465.86" width="1.60" height="1.60" fill="#dd5a5a"/>
<rect x="82.10" y="477.96" width="1.60" height="1.60" fill="#dd5a5a"/>
<rect x="91.30" y="481.99" width="1.60" height="1.60" fill="#dd5a5a"/>
<rect x="100.50" y="481.99" width="1.60" height="1.60" fill="#dd5a5a"/>
<rect x="109.70" y="480.98" width="1.60" height="1.60" fill="#dd5a5a"/>
<rect x="118.90" y="477.96" width="1.60" height="1.60" fill="#dd5a5a"/>
<rect x="128.10" y="466.87" width="1.60" height="1.60" fill="#dd5a5a"/>
<polyline points="64.50,480.78 73.70,467.67 82.90,479.77 92.10,481.78 101.30,480.78 110.50,478.76 119.70,478.76 128.90,474.73" fill="none" stroke="#dd5a5a" stroke-width="0.75" stroke-linejoin="round"/>
<rect x="63.70" y="479.98" width="1.60" height="1.60" fill="#dd5a5a"/>
<rect x="72.90" y="466.87" width="1.60" height="1.60" fill="#dd5a5a"/>
<rect x="82.10" y="478.97" width="1.60" height="1.60" fill="#dd5a5a"/>
<rect x="91.30" y="480.98" width="1.60" height="1.60" fill="#dd5a5a"/>
<rect x="100.50" y="479.98" width="1.60" height="1.60" fill="#dd5a5a"/>
<rect x="109.70" y="477.96" width="1.60" height="1.60" fill="#dd5a5a"/>
<rect x="118.90" y="477.96" width="1.60" height="1.60" fill="#dd5a5a"/>
<rect x="128.10" y="473.93" width="1.60" height="1.60" fill="#dd5a5a"/>
<polyline points="64.50,482.79 73.70,472.71 82.90,479.77 92.10,482.79 101.30,483.80 110.50,483.80 119.70,480.78 128.90,477.75" fill="none" stroke="#dd5a5a" stroke-width="0.75" stroke-linejoin="round"/>
<rect x="63.70" y="481.99" width="1.60" height="1.60" fill="#dd5a5a"/>
<rect x="72.90" y="471.91" width="1.60" height="1.60" fill="#dd5a5a"/>
<rect x="82.10" y="478.97" width="1.60" height="1.60" fill="#dd5a5a"/>
<rect x="91.30" y="481.99" width="1.60" height="1.60" fill="#dd5a5a"/>
<rect x="100.50" y="483.00" width="1.60" height="1.60" fill="#dd5a5a"/>
<rect x="109.70" y="483.00" width="1.60" height="1.60" fill="#dd5a5a"/>
<rect x="118.90" y="479.98" width="1.60" height="1.60" fill="#dd5a5a"/>
<rect x="128.10" y="476.95" width="1.60" height="1.60" fill="#dd5a5a"/>
<polyline points="64.50,481.78 73.70,470.70 82.90,478.76 92.10,481.78 101.30,481.78 110.50,481.78 119.70,479.77 128.90,478.76" fill="none" stroke="#dd5a5a" stroke-width="0.75" stroke-linejoin="round"/>
<rect x="63.70" y="480.98" width="1.60" height="1.60" fill="#dd5a5a"/>
<rect x="72.90" y="469.90" width="1.60" height="1.60" fill="#dd5a5a"/>
<rect x="82.10" y="477.96" width="1.60" height="1.60" fill="#dd5a5a"/>
<rect x="91.30" y="480.98" width="1.60" height="1.60" fill="#dd5a5a"/>
<rect x="100.50" y="480.98" width="1.60" height="1.60" fill="#dd5a5a"/>
<rect x="109.70" y="480.98" width="1.60" height="1.60" fill="#dd5a5a"/>
<rect x="118.90" y="478.97" width="1.60" height="1.60" fill="#dd5a5a"/>
<rect x="128.10" y="477.96" width="1.60" height="1.60" fill="#dd5a5a"/>
<polyline points="64.50,482.79 73.70,465.66 82.90,478.76 92.10,482.79 101.30,483.80 110.50,482.79 119.70,480.78 128.90,476.74" fill="none" stroke="#dd5a5a" stroke-width="0.75" stroke-linejoin="round"/>
<rect x="63.70" y="481.99" width="1.60" height="1.60" fill="#dd5a5a"/>
<rect x="72.90" y="464.86" width="1.60" height="1.60" fill="#dd5a5a"/>
<rect x="82.10" y="477.96" width="1.60" height="1.60" fill="#dd5a5a"/>
<rect x="91.30" y="481.99" width="1.60" height="1.60" fill="#dd5a5a"/>
<rect x="100.50" y="483.00" width="1.60" height="1.60" fill="#dd5a5a"/>
<rect x="109.70" y="481.99" width="1.60" height="1.60" fill="#dd5a5a"/>
<rect x="118.90" y="479.98" width="1.60" height="1.60" fill="#dd5a5a"/>
<rect x="128.10" y="475.94" width="1.60" height="1.60" fill="#dd5a5a"/>
<polyline points="64.50,481.78 73.70,471.70 82.90,477.75 92.10,481.78 101.30,482.79 110.50,483.80 119.70,481.78 128.90,479.77" fill="none" stroke="#dd5a5a" stroke-width="0.75" stroke-linejoin="round"/>
<rect x="63.70" y="480.98" width="1.60" height="1.60" fill="#dd5a5a"/>
<rect x="72.90" y="470.90" width="1.60" height="1.60" fill="#dd5a5a"/>
<rect x="82.10" y="476.95" width="1.60" height="1.60" fill="#dd5a5a"/>
<rect x="91.30" y="480.98" width="1.60" height="1.60" fill="#dd5a5a"/>
<rect x="100.50" y="481.99" width="1.60" height="1.60" fill="#dd5a5a"/>
<rect x="109.70" y="483.00" width="1.60" height="1.60" fill="#dd5a5a"/>
<rect x="118.90" y="480.98" width="1.60" height="1.60" fill="#dd5a5a"/>
<rect x="128.10" y="478.97" width="1.60" height="1.60" fill="#dd5a5a"/>
<line x1="188.80" y1="431.20" x2="188.80" y2="487.80" stroke="#222" stroke-width="1.2"/>
<line x1="188.30" y1="487.30" x2="261.50" y2="487.30" stroke="#222" stroke-width="1.2"/>
<line x1="186.20" y1="484.00" x2="188.80" y2="484.00" stroke="#222" stroke-width="1.0"/>
<text x="183.90" y="486.30" font-size="6.6" fill="#2a2a2a" text-anchor="end">10<tspan font-size="4.3" dy="-2.7">6</tspan></text>
<line x1="186.20" y1="473.90" x2="188.80" y2="473.90" stroke="#222" stroke-width="1.0"/>
<text x="183.90" y="476.20" font-size="6.6" fill="#2a2a2a" text-anchor="end">10<tspan font-size="4.3" dy="-2.7">7</tspan></text>
<line x1="186.20" y1="463.80" x2="188.80" y2="463.80" stroke="#222" stroke-width="1.0"/>
<text x="183.90" y="466.10" font-size="6.6" fill="#2a2a2a" text-anchor="end">10<tspan font-size="4.3" dy="-2.7">8</tspan></text>
<line x1="186.20" y1="453.70" x2="188.80" y2="453.70" stroke="#222" stroke-width="1.0"/>
<text x="183.90" y="456.00" font-size="6.6" fill="#2a2a2a" text-anchor="end">10<tspan font-size="4.3" dy="-2.7">9</tspan></text>
<line x1="186.20" y1="443.60" x2="188.80" y2="443.60" stroke="#222" stroke-width="1.0"/>
<text x="183.90" y="445.90" font-size="6.6" fill="#2a2a2a" text-anchor="end">10<tspan font-size="4.3" dy="-2.7">10</tspan></text>
<line x1="186.20" y1="433.50" x2="188.80" y2="433.50" stroke="#222" stroke-width="1.0"/>
<text x="183.90" y="435.80" font-size="6.6" fill="#2a2a2a" text-anchor="end">10<tspan font-size="4.3" dy="-2.7">11</tspan></text>
<line x1="193.70" y1="487.30" x2="193.70" y2="489.70" stroke="#222" stroke-width="1.0"/>
<text x="193.70" y="498.80" font-size="6.3" fill="#2a2a2a" text-anchor="middle">−1</text>
<line x1="202.85" y1="487.30" x2="202.85" y2="489.70" stroke="#222" stroke-width="1.0"/>
<text x="202.85" y="498.80" font-size="6.3" fill="#2a2a2a" text-anchor="middle">6</text>
<line x1="212.00" y1="487.30" x2="212.00" y2="489.70" stroke="#222" stroke-width="1.0"/>
<text x="212.00" y="498.80" font-size="6.3" fill="#2a2a2a" text-anchor="middle">13</text>
<line x1="221.15" y1="487.30" x2="221.15" y2="489.70" stroke="#222" stroke-width="1.0"/>
<text x="221.15" y="498.80" font-size="6.3" fill="#2a2a2a" text-anchor="middle">20</text>
<line x1="230.30" y1="487.30" x2="230.30" y2="489.70" stroke="#222" stroke-width="1.0"/>
<text x="230.30" y="498.80" font-size="6.3" fill="#2a2a2a" text-anchor="middle">27</text>
<line x1="239.45" y1="487.30" x2="239.45" y2="489.70" stroke="#222" stroke-width="1.0"/>
<text x="239.45" y="498.80" font-size="6.3" fill="#2a2a2a" text-anchor="middle">34</text>
<line x1="248.60" y1="487.30" x2="248.60" y2="489.70" stroke="#222" stroke-width="1.0"/>
<text x="248.60" y="498.80" font-size="6.3" fill="#2a2a2a" text-anchor="middle">41</text>
<line x1="257.75" y1="487.30" x2="257.75" y2="489.70" stroke="#222" stroke-width="1.0"/>
<text x="257.75" y="498.80" font-size="6.3" fill="#2a2a2a" text-anchor="middle">48</text>
<text x="225.40" y="508.80" font-size="7.2" fill="#2a2a2a" text-anchor="middle" textLength="11.00" lengthAdjust="spacingAndGlyphs">Day</text>
<text x="225.35" y="426.00" font-size="8.6" fill="#222" text-anchor="middle" textLength="35.30" lengthAdjust="spacingAndGlyphs">50e6 TUs</text>
<text x="243.60" y="454.90" font-size="6.5" fill="#2a2a2a" text-anchor="middle" textLength="14.60" lengthAdjust="spacingAndGlyphs">n = 7</text>
<text x="155.50" y="459.00" font-size="7.6" fill="#2a2a2a" text-anchor="middle" textLength="14.60" lengthAdjust="spacingAndGlyphs" transform="rotate(-90 155.50 459.00)">FLUX</text>
<text x="165.60" y="459.00" font-size="7.6" fill="#2a2a2a" text-anchor="middle" textLength="53.00" lengthAdjust="spacingAndGlyphs" transform="rotate(-90 165.60 459.00)">(photons/second)</text>
<polyline points="193.70,481.98 202.85,478.95 212.00,466.83 221.15,478.95 230.30,481.98 239.45,479.96 248.60,477.94 257.75,482.99" fill="none" stroke="#c41a3a" stroke-width="0.85" stroke-linejoin="round"/>
<rect x="192.85" y="481.13" width="1.70" height="1.70" fill="#c41a3a"/>
<rect x="202.00" y="478.10" width="1.70" height="1.70" fill="#c41a3a"/>
<rect x="211.15" y="465.98" width="1.70" height="1.70" fill="#c41a3a"/>
<rect x="220.30" y="478.10" width="1.70" height="1.70" fill="#c41a3a"/>
<rect x="229.45" y="481.13" width="1.70" height="1.70" fill="#c41a3a"/>
<rect x="238.60" y="479.11" width="1.70" height="1.70" fill="#c41a3a"/>
<rect x="247.75" y="477.09" width="1.70" height="1.70" fill="#c41a3a"/>
<rect x="256.90" y="482.14" width="1.70" height="1.70" fill="#c41a3a"/>
<polyline points="193.70,482.99 202.85,475.92 212.00,473.90 221.15,480.97 230.30,467.84 239.45,480.97 248.60,478.95 257.75,481.98" fill="none" stroke="#c41a3a" stroke-width="0.85" stroke-linejoin="round"/>
<rect x="192.85" y="482.14" width="1.70" height="1.70" fill="#c41a3a"/>
<rect x="202.00" y="475.07" width="1.70" height="1.70" fill="#c41a3a"/>
<rect x="211.15" y="473.05" width="1.70" height="1.70" fill="#c41a3a"/>
<rect x="220.30" y="480.12" width="1.70" height="1.70" fill="#c41a3a"/>
<rect x="229.45" y="466.99" width="1.70" height="1.70" fill="#c41a3a"/>
<rect x="238.60" y="480.12" width="1.70" height="1.70" fill="#c41a3a"/>
<rect x="247.75" y="478.10" width="1.70" height="1.70" fill="#c41a3a"/>
<rect x="256.90" y="481.13" width="1.70" height="1.70" fill="#c41a3a"/>
<polyline points="193.70,480.97 202.85,478.95 212.00,475.92 221.15,481.98 230.30,478.95 239.45,478.95 248.60,476.93 257.75,482.99" fill="none" stroke="#c41a3a" stroke-width="0.85" stroke-linejoin="round"/>
<rect x="192.85" y="480.12" width="1.70" height="1.70" fill="#c41a3a"/>
<rect x="202.00" y="478.10" width="1.70" height="1.70" fill="#c41a3a"/>
<rect x="211.15" y="475.07" width="1.70" height="1.70" fill="#c41a3a"/>
<rect x="220.30" y="481.13" width="1.70" height="1.70" fill="#c41a3a"/>
<rect x="229.45" y="478.10" width="1.70" height="1.70" fill="#c41a3a"/>
<rect x="238.60" y="478.10" width="1.70" height="1.70" fill="#c41a3a"/>
<rect x="247.75" y="476.08" width="1.70" height="1.70" fill="#c41a3a"/>
<rect x="256.90" y="482.14" width="1.70" height="1.70" fill="#c41a3a"/>
<polyline points="193.70,481.98 202.85,479.96 212.00,481.98 221.15,480.97 230.30,482.99 239.45,479.96 248.60,478.95 257.75,484.00" fill="none" stroke="#c41a3a" stroke-width="0.85" stroke-linejoin="round"/>
<rect x="192.85" y="481.13" width="1.70" height="1.70" fill="#c41a3a"/>
<rect x="202.00" y="479.11" width="1.70" height="1.70" fill="#c41a3a"/>
<rect x="211.15" y="481.13" width="1.70" height="1.70" fill="#c41a3a"/>
<rect x="220.30" y="480.12" width="1.70" height="1.70" fill="#c41a3a"/>
<rect x="229.45" y="482.14" width="1.70" height="1.70" fill="#c41a3a"/>
<rect x="238.60" y="479.11" width="1.70" height="1.70" fill="#c41a3a"/>
<rect x="247.75" y="478.10" width="1.70" height="1.70" fill="#c41a3a"/>
<rect x="256.90" y="483.15" width="1.70" height="1.70" fill="#c41a3a"/>
<polyline points="193.70,482.99 202.85,477.94 212.00,474.91 221.15,481.98 230.30,481.98 239.45,480.97 248.60,479.96 257.75,481.98" fill="none" stroke="#c41a3a" stroke-width="0.85" stroke-linejoin="round"/>
<rect x="192.85" y="482.14" width="1.70" height="1.70" fill="#c41a3a"/>
<rect x="202.00" y="477.09" width="1.70" height="1.70" fill="#c41a3a"/>
<rect x="211.15" y="474.06" width="1.70" height="1.70" fill="#c41a3a"/>
<rect x="220.30" y="481.13" width="1.70" height="1.70" fill="#c41a3a"/>
<rect x="229.45" y="481.13" width="1.70" height="1.70" fill="#c41a3a"/>
<rect x="238.60" y="480.12" width="1.70" height="1.70" fill="#c41a3a"/>
<rect x="247.75" y="479.11" width="1.70" height="1.70" fill="#c41a3a"/>
<rect x="256.90" y="481.13" width="1.70" height="1.70" fill="#c41a3a"/>
<polyline points="193.70,480.97 202.85,478.95 212.00,481.98 221.15,479.96 230.30,480.97 239.45,478.95 248.60,477.94 257.75,482.99" fill="none" stroke="#c41a3a" stroke-width="0.85" stroke-linejoin="round"/>
<rect x="192.85" y="480.12" width="1.70" height="1.70" fill="#c41a3a"/>
<rect x="202.00" y="478.10" width="1.70" height="1.70" fill="#c41a3a"/>
<rect x="211.15" y="481.13" width="1.70" height="1.70" fill="#c41a3a"/>
<rect x="220.30" y="479.11" width="1.70" height="1.70" fill="#c41a3a"/>
<rect x="229.45" y="480.12" width="1.70" height="1.70" fill="#c41a3a"/>
<rect x="238.60" y="478.10" width="1.70" height="1.70" fill="#c41a3a"/>
<rect x="247.75" y="477.09" width="1.70" height="1.70" fill="#c41a3a"/>
<rect x="256.90" y="482.14" width="1.70" height="1.70" fill="#c41a3a"/>
<polyline points="193.70,481.98 202.85,479.96 212.00,480.97 221.15,481.98 230.30,482.99 239.45,479.96 248.60,476.93 257.75,481.98" fill="none" stroke="#c41a3a" stroke-width="0.85" stroke-linejoin="round"/>
<rect x="192.85" y="481.13" width="1.70" height="1.70" fill="#c41a3a"/>
<rect x="202.00" y="479.11" width="1.70" height="1.70" fill="#c41a3a"/>
<rect x="211.15" y="480.12" width="1.70" height="1.70" fill="#c41a3a"/>
<rect x="220.30" y="481.13" width="1.70" height="1.70" fill="#c41a3a"/>
<rect x="229.45" y="482.14" width="1.70" height="1.70" fill="#c41a3a"/>
<rect x="238.60" y="479.11" width="1.70" height="1.70" fill="#c41a3a"/>
<rect x="247.75" y="476.08" width="1.70" height="1.70" fill="#c41a3a"/>
<rect x="256.90" y="481.13" width="1.70" height="1.70" fill="#c41a3a"/>
<rect x="280.40" y="414.20" width="151.70" height="82.39" fill="none" stroke="#333" stroke-width="1.0"/>
<line x1="280.40" y1="425.97" x2="432.10" y2="425.97" stroke="#333" stroke-width="1.0"/>
<line x1="280.40" y1="437.74" x2="432.10" y2="437.74" stroke="#333" stroke-width="1.0"/>
<line x1="280.40" y1="449.51" x2="432.10" y2="449.51" stroke="#333" stroke-width="1.0"/>
<line x1="280.40" y1="461.28" x2="432.10" y2="461.28" stroke="#333" stroke-width="1.0"/>
<line x1="280.40" y1="473.05" x2="432.10" y2="473.05" stroke="#333" stroke-width="1.0"/>
<line x1="280.40" y1="484.82" x2="432.10" y2="484.82" stroke="#333" stroke-width="1.0"/>
<line x1="391.70" y1="414.20" x2="391.70" y2="496.59" stroke="#333" stroke-width="1.0"/>
<text x="335.85" y="423.28" font-size="6.4" fill="#2a2a2a" text-anchor="middle">Comparison</text>
<text x="411.60" y="423.28" font-size="6.4" fill="#2a2a2a" text-anchor="middle"><tspan font-style="italic">P</tspan> Value</text>
<text x="335.85" y="435.05" font-size="6.4" fill="#2a2a2a" text-anchor="middle">Vehicle vs. Costim 10e6</text>
<text x="411.60" y="435.05" font-size="6.4" fill="#2a2a2a" text-anchor="middle">.0232</text>
<text x="335.85" y="446.82" font-size="6.4" fill="#2a2a2a" text-anchor="middle">Vehicle vs. Costim 50e6</text>
<text x="411.60" y="446.82" font-size="6.4" fill="#2a2a2a" text-anchor="middle">.0002</text>
<text x="335.85" y="458.59" font-size="6.4" fill="#2a2a2a" text-anchor="middle">Vehicle vs. MDF 10e6</text>
<text x="411.60" y="458.59" font-size="6.4" fill="#2a2a2a" text-anchor="middle">&lt;.0001</text>
<text x="335.85" y="470.36" font-size="6.4" fill="#2a2a2a" text-anchor="middle">Vehicle vs. MDF 50e6</text>
<text x="411.60" y="470.36" font-size="6.4" fill="#2a2a2a" text-anchor="middle">&lt;.0001</text>
<text x="335.85" y="482.13" font-size="6.4" fill="#2a2a2a" text-anchor="middle">Costim 10e6 vs. MDF 10e6</text>
<text x="411.60" y="482.13" font-size="6.4" fill="#2a2a2a" text-anchor="middle">.0445</text>
<text x="335.85" y="493.90" font-size="6.4" fill="#2a2a2a" text-anchor="middle">Costim 50e6 vs. MDF 50e6</text>
<text x="411.60" y="493.90" font-size="6.4" fill="#2a2a2a" text-anchor="middle">.9534</text>
<line x1="47.40" y1="543.50" x2="47.40" y2="609.70" stroke="#222" stroke-width="1.2"/>
<line x1="46.90" y1="609.20" x2="149.50" y2="609.20" stroke="#222" stroke-width="1.2"/>
<line x1="44.80" y1="608.90" x2="47.40" y2="608.90" stroke="#222" stroke-width="1.0"/>
<text x="41.00" y="611.20" font-size="6.6" fill="#2a2a2a" text-anchor="end">0</text>
<line x1="44.80" y1="596.82" x2="47.40" y2="596.82" stroke="#222" stroke-width="1.0"/>
<text x="41.00" y="599.12" font-size="6.6" fill="#2a2a2a" text-anchor="end">20</text>
<line x1="44.80" y1="584.74" x2="47.40" y2="584.74" stroke="#222" stroke-width="1.0"/>
<text x="41.00" y="587.04" font-size="6.6" fill="#2a2a2a" text-anchor="end">40</text>
<line x1="44.80" y1="572.66" x2="47.40" y2="572.66" stroke="#222" stroke-width="1.0"/>
<text x="41.00" y="574.96" font-size="6.6" fill="#2a2a2a" text-anchor="end">60</text>
<line x1="44.80" y1="560.58" x2="47.40" y2="560.58" stroke="#222" stroke-width="1.0"/>
<text x="41.00" y="562.88" font-size="6.6" fill="#2a2a2a" text-anchor="end">80</text>
<line x1="44.80" y1="548.50" x2="47.40" y2="548.50" stroke="#222" stroke-width="1.0"/>
<text x="41.00" y="550.80" font-size="6.6" fill="#2a2a2a" text-anchor="end">100</text>
<line x1="47.40" y1="609.20" x2="47.40" y2="611.60" stroke="#222" stroke-width="1.0"/>
<text x="47.40" y="620.70" font-size="6.6" fill="#2a2a2a" text-anchor="middle">0</text>
<line x1="67.26" y1="609.20" x2="67.26" y2="611.60" stroke="#222" stroke-width="1.0"/>
<text x="67.26" y="620.70" font-size="6.6" fill="#2a2a2a" text-anchor="middle">20</text>
<line x1="87.12" y1="609.20" x2="87.12" y2="611.60" stroke="#222" stroke-width="1.0"/>
<text x="87.12" y="620.70" font-size="6.6" fill="#2a2a2a" text-anchor="middle">40</text>
<line x1="106.98" y1="609.20" x2="106.98" y2="611.60" stroke="#222" stroke-width="1.0"/>
<text x="106.98" y="620.70" font-size="6.6" fill="#2a2a2a" text-anchor="middle">60</text>
<line x1="126.84" y1="609.20" x2="126.84" y2="611.60" stroke="#222" stroke-width="1.0"/>
<text x="126.84" y="620.70" font-size="6.6" fill="#2a2a2a" text-anchor="middle">80</text>
<line x1="146.70" y1="609.20" x2="146.70" y2="611.60" stroke="#222" stroke-width="1.0"/>
<text x="146.70" y="620.70" font-size="6.6" fill="#2a2a2a" text-anchor="middle">100</text>
<text x="98.50" y="632.50" font-size="7.4" fill="#2a2a2a" text-anchor="middle" textLength="11.30" lengthAdjust="spacingAndGlyphs">Day</text>
<text x="24.80" y="575.70" font-size="7.0" fill="#2a2a2a" text-anchor="middle" textLength="29.50" lengthAdjust="spacingAndGlyphs" transform="rotate(-90 24.80 575.70)">% survival</text>
<path d="M71.83,548.50 H143.72 V548.50" stroke="#d0284a" stroke-width="1.0" fill="none" />
<path d="M71.83,548.50 H71.83 V556.05 H115.42 V563.60 H129.22 V571.15 H136.17 V586.25 H143.72 V586.25" stroke="#e06666" stroke-width="1.0" fill="none" />
<path d="M71.83,548.50 H71.83 V557.14 H101.52 V565.77 H108.37 V582.99 H112.94 V591.63 H115.72 V600.26 H141.34 V608.90" stroke="#5a6fa0" stroke-width="1.0" fill="none" />
<path d="M71.83,548.50 H95.46 V557.14 H123.07 V565.77 H143.72 V565.77" stroke="#3f77a8" stroke-width="1.0" fill="none" />
<path d="M47.40,548.50 H71.83 V608.90" stroke="#c8c8c8" stroke-width="1.0" fill="none" />
<path d="M143.22,547.20 L145.22,548.50 L143.22,549.80" stroke="#d0284a" stroke-width="0.8" fill="none" />
<path d="M143.22,564.47 L145.22,565.77 L143.22,567.07" stroke="#3f77a8" stroke-width="0.8" fill="none" />
<path d="M143.22,584.95 L145.22,586.25 L143.22,587.55" stroke="#e06666" stroke-width="0.8" fill="none" />
<text x="75.00" y="606.60" font-size="6.4" fill="#c8c8c8" textLength="20.00" lengthAdjust="spacingAndGlyphs">Vehicle</text>
<text x="148.00" y="551.40" font-size="6.6" fill="#d0284a" textLength="41.20" lengthAdjust="spacingAndGlyphs">MDF, 50e6 TU</text>
<text x="148.50" y="568.70" font-size="6.6" fill="#3a6fa0" textLength="51.20" lengthAdjust="spacingAndGlyphs">+Costim, 50e6 TU</text>
<text x="148.00" y="588.00" font-size="6.6" fill="#e07272" textLength="41.20" lengthAdjust="spacingAndGlyphs">MDF, 10e6 TU</text>
<text x="148.50" y="604.90" font-size="6.6" fill="#5a6a9a" textLength="51.20" lengthAdjust="spacingAndGlyphs">+Costim, 10e6 TU</text>
<path d="M202.3,585.2 H206.5 V602.7 H202.3" stroke="#333" stroke-width="0.9" fill="none" />
<text x="209.40" y="596.40" font-size="6.0" fill="#333">*</text>
</svg>
</body></html>
